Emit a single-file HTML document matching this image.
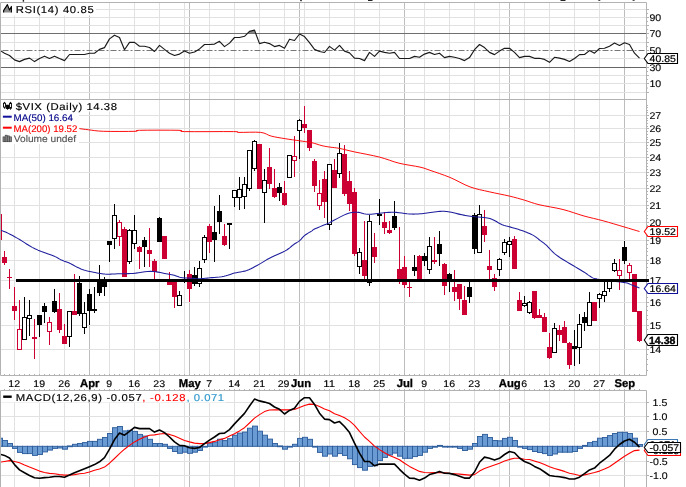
<!DOCTYPE html><html><head><meta charset="utf-8"><style>html,body{margin:0;padding:0;background:#fff;overflow:hidden}svg{display:block;will-change:transform}</style></head><body><svg width="686" height="487" viewBox="0 0 686 487" font-family="Liberation Sans, sans-serif" text-rendering="geometricPrecision">
<rect x="0" y="0" width="686" height="487" fill="#fff"/>
<rect x="22.7" y="0" width="1.4000000000000021" height="1.7" fill="#222"/>
<rect x="300.2" y="0" width="1.6000000000000227" height="1.2" fill="#222"/>
<rect x="368" y="0" width="4.5" height="1.0" fill="#222"/>
<rect x="560.5" y="0" width="5.0" height="1.0" fill="#222"/>
<rect x="598.3" y="0" width="2.0" height="0.8" fill="#222"/>
<rect x="632.6" y="0" width="2.0" height="0.8" fill="#222"/>
<line x1="14.5" y1="2.5" x2="14.5" y2="99.5" stroke="#e1e1e1" stroke-width="1"/>
<line x1="39.5" y1="2.5" x2="39.5" y2="99.5" stroke="#e1e1e1" stroke-width="1"/>
<line x1="64.5" y1="2.5" x2="64.5" y2="99.5" stroke="#e1e1e1" stroke-width="1"/>
<line x1="109.5" y1="2.5" x2="109.5" y2="99.5" stroke="#e1e1e1" stroke-width="1"/>
<line x1="134.5" y1="2.5" x2="134.5" y2="99.5" stroke="#e1e1e1" stroke-width="1"/>
<line x1="159.5" y1="2.5" x2="159.5" y2="99.5" stroke="#e1e1e1" stroke-width="1"/>
<line x1="184.5" y1="2.5" x2="184.5" y2="99.5" stroke="#e1e1e1" stroke-width="1"/>
<line x1="209.5" y1="2.5" x2="209.5" y2="99.5" stroke="#e1e1e1" stroke-width="1"/>
<line x1="234.5" y1="2.5" x2="234.5" y2="99.5" stroke="#e1e1e1" stroke-width="1"/>
<line x1="259.5" y1="2.5" x2="259.5" y2="99.5" stroke="#e1e1e1" stroke-width="1"/>
<line x1="284.5" y1="2.5" x2="284.5" y2="99.5" stroke="#e1e1e1" stroke-width="1"/>
<line x1="304.5" y1="2.5" x2="304.5" y2="99.5" stroke="#e1e1e1" stroke-width="1"/>
<line x1="329.5" y1="2.5" x2="329.5" y2="99.5" stroke="#e1e1e1" stroke-width="1"/>
<line x1="354.5" y1="2.5" x2="354.5" y2="99.5" stroke="#e1e1e1" stroke-width="1"/>
<line x1="379.5" y1="2.5" x2="379.5" y2="99.5" stroke="#e1e1e1" stroke-width="1"/>
<line x1="424.5" y1="2.5" x2="424.5" y2="99.5" stroke="#e1e1e1" stroke-width="1"/>
<line x1="449.5" y1="2.5" x2="449.5" y2="99.5" stroke="#e1e1e1" stroke-width="1"/>
<line x1="474.5" y1="2.5" x2="474.5" y2="99.5" stroke="#e1e1e1" stroke-width="1"/>
<line x1="499.5" y1="2.5" x2="499.5" y2="99.5" stroke="#e1e1e1" stroke-width="1"/>
<line x1="524.5" y1="2.5" x2="524.5" y2="99.5" stroke="#e1e1e1" stroke-width="1"/>
<line x1="549.5" y1="2.5" x2="549.5" y2="99.5" stroke="#e1e1e1" stroke-width="1"/>
<line x1="574.5" y1="2.5" x2="574.5" y2="99.5" stroke="#e1e1e1" stroke-width="1"/>
<line x1="599.5" y1="2.5" x2="599.5" y2="99.5" stroke="#e1e1e1" stroke-width="1"/>
<line x1="89.5" y1="2.5" x2="89.5" y2="99.5" stroke="#bdbdbd" stroke-width="1"/>
<line x1="189.5" y1="2.5" x2="189.5" y2="99.5" stroke="#bdbdbd" stroke-width="1"/>
<line x1="299.5" y1="2.5" x2="299.5" y2="99.5" stroke="#bdbdbd" stroke-width="1"/>
<line x1="404.5" y1="2.5" x2="404.5" y2="99.5" stroke="#bdbdbd" stroke-width="1"/>
<line x1="509.5" y1="2.5" x2="509.5" y2="99.5" stroke="#bdbdbd" stroke-width="1"/>
<line x1="624.5" y1="2.5" x2="624.5" y2="99.5" stroke="#bdbdbd" stroke-width="1"/>
<line x1="0.5" y1="9.5" x2="646.5" y2="9.5" stroke="#e1e1e1" stroke-width="1" />
<line x1="0.5" y1="17.5" x2="646.5" y2="17.5" stroke="#e1e1e1" stroke-width="1" />
<line x1="0.5" y1="25.5" x2="646.5" y2="25.5" stroke="#e1e1e1" stroke-width="1" />
<line x1="0.5" y1="42.5" x2="646.5" y2="42.5" stroke="#e1e1e1" stroke-width="1" />
<line x1="0.5" y1="58.5" x2="646.5" y2="58.5" stroke="#e1e1e1" stroke-width="1" />
<line x1="0.5" y1="75.5" x2="646.5" y2="75.5" stroke="#e1e1e1" stroke-width="1" />
<line x1="0.5" y1="83.5" x2="646.5" y2="83.5" stroke="#e1e1e1" stroke-width="1" />
<line x1="0.5" y1="92.5" x2="646.5" y2="92.5" stroke="#e1e1e1" stroke-width="1" />
<rect x="1" y="3" width="95" height="12.5" fill="#fff"/>
<line x1="0.5" y1="33.5" x2="646.5" y2="33.5" stroke="#666666" stroke-width="1" />
<line x1="0.5" y1="67.5" x2="646.5" y2="67.5" stroke="#666666" stroke-width="1" />
<line x1="0.5" y1="50.5" x2="646.5" y2="50.5" stroke="#777777" stroke-width="1" stroke-dasharray="6,2,2,2" stroke-dashoffset="10"/>
<clipPath id="ob"><rect x="0" y="0" width="686" height="33.5"/></clipPath>
<polygon points="-0.5,33.5 -0.5,50.1 4.5,53.2 9.5,55.5 14.5,59.9 19.5,61.6 24.5,59.4 29.5,58.1 34.5,61.6 39.5,58.5 44.5,56.2 49.5,58.5 54.5,56.2 59.5,58.5 64.5,60.6 69.5,54.5 74.5,54.5 79.5,54.5 84.5,54.5 89.5,53.2 94.5,53.2 99.5,49.4 104.5,47.6 109.5,38.9 114.5,35.2 119.5,37.5 124.5,49.7 129.5,42.4 134.5,42.4 139.5,46.2 144.5,46.2 149.5,47.5 154.5,51.5 159.5,45.4 164.5,49.4 169.5,53.2 174.5,55.5 179.5,54.1 184.5,51 189.5,53.2 194.5,52 199.5,48.9 204.5,44.5 209.5,44.5 214.5,44.1 219.5,41.3 224.5,46.6 229.5,43.1 234.5,37.5 239.5,37.5 244.5,36.3 249.5,31.4 254.5,30.1 259.5,43.6 264.5,42.2 269.5,43.6 274.5,46.6 279.5,45.4 284.5,48.3 289.5,39.2 294.5,40.5 299.5,34 304.5,36.6 309.5,42.7 314.5,49.4 319.5,51.5 324.5,52.5 329.5,46.4 334.5,50.1 339.5,45.4 344.5,51.1 349.5,52.9 354.5,58.1 359.5,58.5 364.5,60.6 369.5,52.4 374.5,56.4 379.5,51.1 384.5,52.4 389.5,53.2 394.5,52.4 399.5,58.5 404.5,58.5 409.5,58.5 414.5,56.4 419.5,57.3 424.5,54.1 429.5,52.4 434.5,54.5 439.5,53.2 444.5,57.6 449.5,56.4 454.5,57.3 459.5,58.5 464.5,60.6 469.5,57.6 474.5,49.7 479.5,44.5 484.5,47.6 489.5,52.4 494.5,54.6 499.5,51.1 504.5,48.3 509.5,48.3 514.5,52.4 519.5,57.6 524.5,56.4 529.5,56.4 534.5,58.3 539.5,58.3 544.5,59.4 549.5,62.3 554.5,57.3 559.5,58.1 564.5,59.4 569.5,61.5 574.5,58.5 579.5,54.6 584.5,54.5 589.5,50.6 594.5,53.2 599.5,48.5 604.5,48.3 609.5,46.2 614.5,43.1 619.5,45.4 624.5,42.7 629.5,44.5 634.5,53.2 639.5,58.1 639.5,33.5" fill="#8a8a8a" clip-path="url(#ob)"/>
<polyline points="-0.5,50.1 4.5,53.2 9.5,55.5 14.5,59.9 19.5,61.6 24.5,59.4 29.5,58.1 34.5,61.6 39.5,58.5 44.5,56.2 49.5,58.5 54.5,56.2 59.5,58.5 64.5,60.6 69.5,54.5 74.5,54.5 79.5,54.5 84.5,54.5 89.5,53.2 94.5,53.2 99.5,49.4 104.5,47.6 109.5,38.9 114.5,35.2 119.5,37.5 124.5,49.7 129.5,42.4 134.5,42.4 139.5,46.2 144.5,46.2 149.5,47.5 154.5,51.5 159.5,45.4 164.5,49.4 169.5,53.2 174.5,55.5 179.5,54.1 184.5,51 189.5,53.2 194.5,52 199.5,48.9 204.5,44.5 209.5,44.5 214.5,44.1 219.5,41.3 224.5,46.6 229.5,43.1 234.5,37.5 239.5,37.5 244.5,36.3 249.5,31.4 254.5,30.1 259.5,43.6 264.5,42.2 269.5,43.6 274.5,46.6 279.5,45.4 284.5,48.3 289.5,39.2 294.5,40.5 299.5,34 304.5,36.6 309.5,42.7 314.5,49.4 319.5,51.5 324.5,52.5 329.5,46.4 334.5,50.1 339.5,45.4 344.5,51.1 349.5,52.9 354.5,58.1 359.5,58.5 364.5,60.6 369.5,52.4 374.5,56.4 379.5,51.1 384.5,52.4 389.5,53.2 394.5,52.4 399.5,58.5 404.5,58.5 409.5,58.5 414.5,56.4 419.5,57.3 424.5,54.1 429.5,52.4 434.5,54.5 439.5,53.2 444.5,57.6 449.5,56.4 454.5,57.3 459.5,58.5 464.5,60.6 469.5,57.6 474.5,49.7 479.5,44.5 484.5,47.6 489.5,52.4 494.5,54.6 499.5,51.1 504.5,48.3 509.5,48.3 514.5,52.4 519.5,57.6 524.5,56.4 529.5,56.4 534.5,58.3 539.5,58.3 544.5,59.4 549.5,62.3 554.5,57.3 559.5,58.1 564.5,59.4 569.5,61.5 574.5,58.5 579.5,54.6 584.5,54.5 589.5,50.6 594.5,53.2 599.5,48.5 604.5,48.3 609.5,46.2 614.5,43.1 619.5,45.4 624.5,42.7 629.5,44.5 634.5,53.2 639.5,58.1" fill="none" stroke="#1a1a1a" stroke-width="1.15" stroke-linejoin="round"/>
<line x1="14.5" y1="99.5" x2="14.5" y2="375.5" stroke="#e1e1e1" stroke-width="1"/>
<line x1="39.5" y1="99.5" x2="39.5" y2="375.5" stroke="#e1e1e1" stroke-width="1"/>
<line x1="64.5" y1="99.5" x2="64.5" y2="375.5" stroke="#e1e1e1" stroke-width="1"/>
<line x1="109.5" y1="99.5" x2="109.5" y2="375.5" stroke="#e1e1e1" stroke-width="1"/>
<line x1="134.5" y1="99.5" x2="134.5" y2="375.5" stroke="#e1e1e1" stroke-width="1"/>
<line x1="159.5" y1="99.5" x2="159.5" y2="375.5" stroke="#e1e1e1" stroke-width="1"/>
<line x1="184.5" y1="99.5" x2="184.5" y2="375.5" stroke="#e1e1e1" stroke-width="1"/>
<line x1="209.5" y1="99.5" x2="209.5" y2="375.5" stroke="#e1e1e1" stroke-width="1"/>
<line x1="234.5" y1="99.5" x2="234.5" y2="375.5" stroke="#e1e1e1" stroke-width="1"/>
<line x1="259.5" y1="99.5" x2="259.5" y2="375.5" stroke="#e1e1e1" stroke-width="1"/>
<line x1="284.5" y1="99.5" x2="284.5" y2="375.5" stroke="#e1e1e1" stroke-width="1"/>
<line x1="304.5" y1="99.5" x2="304.5" y2="375.5" stroke="#e1e1e1" stroke-width="1"/>
<line x1="329.5" y1="99.5" x2="329.5" y2="375.5" stroke="#e1e1e1" stroke-width="1"/>
<line x1="354.5" y1="99.5" x2="354.5" y2="375.5" stroke="#e1e1e1" stroke-width="1"/>
<line x1="379.5" y1="99.5" x2="379.5" y2="375.5" stroke="#e1e1e1" stroke-width="1"/>
<line x1="424.5" y1="99.5" x2="424.5" y2="375.5" stroke="#e1e1e1" stroke-width="1"/>
<line x1="449.5" y1="99.5" x2="449.5" y2="375.5" stroke="#e1e1e1" stroke-width="1"/>
<line x1="474.5" y1="99.5" x2="474.5" y2="375.5" stroke="#e1e1e1" stroke-width="1"/>
<line x1="499.5" y1="99.5" x2="499.5" y2="375.5" stroke="#e1e1e1" stroke-width="1"/>
<line x1="524.5" y1="99.5" x2="524.5" y2="375.5" stroke="#e1e1e1" stroke-width="1"/>
<line x1="549.5" y1="99.5" x2="549.5" y2="375.5" stroke="#e1e1e1" stroke-width="1"/>
<line x1="574.5" y1="99.5" x2="574.5" y2="375.5" stroke="#e1e1e1" stroke-width="1"/>
<line x1="599.5" y1="99.5" x2="599.5" y2="375.5" stroke="#e1e1e1" stroke-width="1"/>
<line x1="89.5" y1="99.5" x2="89.5" y2="375.5" stroke="#bdbdbd" stroke-width="1"/>
<line x1="189.5" y1="99.5" x2="189.5" y2="375.5" stroke="#bdbdbd" stroke-width="1"/>
<line x1="299.5" y1="99.5" x2="299.5" y2="375.5" stroke="#bdbdbd" stroke-width="1"/>
<line x1="404.5" y1="99.5" x2="404.5" y2="375.5" stroke="#bdbdbd" stroke-width="1"/>
<line x1="509.5" y1="99.5" x2="509.5" y2="375.5" stroke="#bdbdbd" stroke-width="1"/>
<line x1="624.5" y1="99.5" x2="624.5" y2="375.5" stroke="#bdbdbd" stroke-width="1"/>
<line x1="0.5" y1="115.5" x2="646.5" y2="115.5" stroke="#e1e1e1" stroke-width="1" />
<line x1="0.5" y1="128.5" x2="646.5" y2="128.5" stroke="#e1e1e1" stroke-width="1" />
<line x1="0.5" y1="142.5" x2="646.5" y2="142.5" stroke="#e1e1e1" stroke-width="1" />
<line x1="0.5" y1="157.5" x2="646.5" y2="157.5" stroke="#e1e1e1" stroke-width="1" />
<line x1="0.5" y1="172.5" x2="646.5" y2="172.5" stroke="#e1e1e1" stroke-width="1" />
<line x1="0.5" y1="188.5" x2="646.5" y2="188.5" stroke="#e1e1e1" stroke-width="1" />
<line x1="0.5" y1="205.5" x2="646.5" y2="205.5" stroke="#e1e1e1" stroke-width="1" />
<line x1="0.5" y1="222.5" x2="646.5" y2="222.5" stroke="#e1e1e1" stroke-width="1" />
<line x1="0.5" y1="240.5" x2="646.5" y2="240.5" stroke="#e1e1e1" stroke-width="1" />
<line x1="0.5" y1="260.5" x2="646.5" y2="260.5" stroke="#e1e1e1" stroke-width="1" />
<line x1="0.5" y1="280.5" x2="646.5" y2="280.5" stroke="#e1e1e1" stroke-width="1" />
<line x1="0.5" y1="302.5" x2="646.5" y2="302.5" stroke="#e1e1e1" stroke-width="1" />
<line x1="0.5" y1="325.5" x2="646.5" y2="325.5" stroke="#e1e1e1" stroke-width="1" />
<line x1="0.5" y1="349.5" x2="646.5" y2="349.5" stroke="#e1e1e1" stroke-width="1" />
<rect x="1" y="100" width="118" height="11.5" fill="#fff"/>
<rect x="1" y="111" width="78" height="33" fill="#fff"/>
<clipPath id="mc"><rect x="1" y="99" width="646" height="277"/></clipPath>
<g clip-path="url(#mc)" shape-rendering="auto">
<line x1="-0.5" y1="214" x2="-0.5" y2="240" stroke="#cc0033" stroke-width="1"/>
<rect x="-3.0" y="214" width="5" height="26" fill="#cc0033"/>
<line x1="4.5" y1="251" x2="4.5" y2="265" stroke="#cc0033" stroke-width="1"/>
<rect x="2.0" y="257" width="5" height="6" fill="#cc0033"/>
<line x1="9.5" y1="269" x2="9.5" y2="289" stroke="#cc0033" stroke-width="1"/>
<rect x="7.0" y="277" width="5" height="1" fill="#cc0033"/>
<line x1="14.5" y1="287" x2="14.5" y2="320" stroke="#cc0033" stroke-width="1"/>
<rect x="12.0" y="306" width="5" height="5" fill="#cc0033"/>
<line x1="19.5" y1="300" x2="19.5" y2="350" stroke="#cc0033" stroke-width="1"/>
<rect x="17.5" y="329.5" width="4" height="20" fill="#fff" stroke="#cc0033" stroke-width="1"/>
<line x1="24.5" y1="297" x2="24.5" y2="340" stroke="#000" stroke-width="1"/>
<rect x="22.5" y="317.5" width="4" height="22" fill="#fff" stroke="#000" stroke-width="1"/>
<line x1="29.5" y1="300" x2="29.5" y2="336" stroke="#000" stroke-width="1"/>
<rect x="27.5" y="315.5" width="4" height="3" fill="#fff" stroke="#000" stroke-width="1"/>
<line x1="34.5" y1="319" x2="34.5" y2="359" stroke="#cc0033" stroke-width="1"/>
<rect x="32.0" y="337" width="5" height="2" fill="#cc0033"/>
<line x1="39.5" y1="315" x2="39.5" y2="337" stroke="#000" stroke-width="1"/>
<rect x="37.0" y="315" width="5" height="10" fill="#000"/>
<line x1="44.5" y1="303" x2="44.5" y2="323" stroke="#000" stroke-width="1"/>
<rect x="42.0" y="306" width="5" height="6" fill="#000"/>
<line x1="49.5" y1="317" x2="49.5" y2="345" stroke="#cc0033" stroke-width="1"/>
<rect x="47.5" y="322.5" width="4" height="9" fill="#fff" stroke="#cc0033" stroke-width="1"/>
<line x1="54.5" y1="289" x2="54.5" y2="313" stroke="#000" stroke-width="1"/>
<rect x="52.0" y="301" width="5" height="11" fill="#000"/>
<line x1="59.5" y1="293" x2="59.5" y2="333" stroke="#cc0033" stroke-width="1"/>
<rect x="57.0" y="309" width="5" height="21" fill="#cc0033"/>
<line x1="64.5" y1="324" x2="64.5" y2="344" stroke="#cc0033" stroke-width="1"/>
<rect x="62.0" y="336" width="5" height="8" fill="#cc0033"/>
<line x1="69.5" y1="311" x2="69.5" y2="347" stroke="#000" stroke-width="1"/>
<rect x="67.5" y="311.5" width="4" height="25" fill="#fff" stroke="#000" stroke-width="1"/>
<line x1="74.5" y1="274" x2="74.5" y2="315" stroke="#cc0033" stroke-width="1"/>
<rect x="72.0" y="311" width="5" height="4" fill="#cc0033"/>
<line x1="79.5" y1="276" x2="79.5" y2="316" stroke="#000" stroke-width="1"/>
<rect x="77.0" y="283" width="5" height="31" fill="#000"/>
<line x1="84.5" y1="302" x2="84.5" y2="334" stroke="#000" stroke-width="1"/>
<rect x="82.5" y="313.5" width="4" height="14" fill="#fff" stroke="#000" stroke-width="1"/>
<line x1="89.5" y1="289" x2="89.5" y2="325" stroke="#000" stroke-width="1"/>
<rect x="87.0" y="294" width="5" height="17" fill="#000"/>
<line x1="94.5" y1="287" x2="94.5" y2="313" stroke="#000" stroke-width="1"/>
<rect x="92.0" y="309" width="5" height="2" fill="#000"/>
<line x1="99.5" y1="265" x2="99.5" y2="296" stroke="#000" stroke-width="1"/>
<rect x="97.0" y="279" width="5" height="14" fill="#000"/>
<line x1="104.5" y1="277" x2="104.5" y2="296" stroke="#000" stroke-width="1"/>
<rect x="102.0" y="280" width="5" height="7" fill="#000"/>
<line x1="109.5" y1="241" x2="109.5" y2="262" stroke="#000" stroke-width="1"/>
<rect x="107.0" y="241" width="5" height="4" fill="#000"/>
<line x1="114.5" y1="204" x2="114.5" y2="249" stroke="#000" stroke-width="1"/>
<rect x="112.5" y="215.5" width="4" height="23" fill="#fff" stroke="#000" stroke-width="1"/>
<line x1="119.5" y1="220" x2="119.5" y2="246" stroke="#cc0033" stroke-width="1"/>
<rect x="117.5" y="222.5" width="4" height="14" fill="#fff" stroke="#cc0033" stroke-width="1"/>
<line x1="124.5" y1="227" x2="124.5" y2="277" stroke="#cc0033" stroke-width="1"/>
<rect x="122.0" y="229" width="5" height="48" fill="#cc0033"/>
<line x1="129.5" y1="229" x2="129.5" y2="264" stroke="#000" stroke-width="1"/>
<rect x="127.5" y="230.5" width="4" height="31" fill="#fff" stroke="#000" stroke-width="1"/>
<line x1="134.5" y1="215" x2="134.5" y2="249" stroke="#000" stroke-width="1"/>
<rect x="132.5" y="230.5" width="4" height="13" fill="#fff" stroke="#000" stroke-width="1"/>
<line x1="139.5" y1="246" x2="139.5" y2="269" stroke="#cc0033" stroke-width="1"/>
<rect x="137.0" y="247" width="5" height="5" fill="#cc0033"/>
<line x1="144.5" y1="237" x2="144.5" y2="267" stroke="#000" stroke-width="1"/>
<rect x="142.0" y="240" width="5" height="7" fill="#000"/>
<line x1="149.5" y1="228" x2="149.5" y2="267" stroke="#cc0033" stroke-width="1"/>
<rect x="147.0" y="250" width="5" height="4" fill="#cc0033"/>
<line x1="154.5" y1="259" x2="154.5" y2="279" stroke="#cc0033" stroke-width="1"/>
<rect x="152.0" y="261" width="5" height="11" fill="#cc0033"/>
<line x1="159.5" y1="217" x2="159.5" y2="242" stroke="#000" stroke-width="1"/>
<rect x="157.0" y="218" width="5" height="24" fill="#000"/>
<line x1="164.5" y1="236" x2="164.5" y2="259" stroke="#cc0033" stroke-width="1"/>
<rect x="162.0" y="236" width="5" height="23" fill="#cc0033"/>
<line x1="169.5" y1="272" x2="169.5" y2="285" stroke="#cc0033" stroke-width="1"/>
<rect x="167.0" y="280" width="5" height="5" fill="#cc0033"/>
<line x1="174.5" y1="280" x2="174.5" y2="308" stroke="#cc0033" stroke-width="1"/>
<rect x="172.0" y="280" width="5" height="17" fill="#cc0033"/>
<line x1="179.5" y1="291" x2="179.5" y2="306" stroke="#000" stroke-width="1"/>
<rect x="177.5" y="295.5" width="4" height="10" fill="#fff" stroke="#000" stroke-width="1"/>
<line x1="184.5" y1="271" x2="184.5" y2="283" stroke="#000" stroke-width="1"/>
<rect x="182.0" y="280" width="5" height="1" fill="#000"/>
<line x1="189.5" y1="270" x2="189.5" y2="302" stroke="#cc0033" stroke-width="1"/>
<rect x="187.0" y="274" width="5" height="15" fill="#cc0033"/>
<line x1="194.5" y1="267" x2="194.5" y2="286" stroke="#000" stroke-width="1"/>
<rect x="192.0" y="275" width="5" height="9" fill="#000"/>
<line x1="199.5" y1="261" x2="199.5" y2="287" stroke="#000" stroke-width="1"/>
<rect x="197.5" y="268.5" width="4" height="15" fill="#fff" stroke="#000" stroke-width="1"/>
<line x1="204.5" y1="235" x2="204.5" y2="263" stroke="#000" stroke-width="1"/>
<rect x="202.5" y="237.5" width="4" height="22" fill="#fff" stroke="#000" stroke-width="1"/>
<line x1="209.5" y1="224" x2="209.5" y2="253" stroke="#cc0033" stroke-width="1"/>
<rect x="207.0" y="226" width="5" height="16" fill="#cc0033"/>
<line x1="214.5" y1="206" x2="214.5" y2="262" stroke="#000" stroke-width="1"/>
<rect x="212.0" y="232" width="5" height="8" fill="#000"/>
<line x1="219.5" y1="195" x2="219.5" y2="234" stroke="#000" stroke-width="1"/>
<rect x="217.0" y="211" width="5" height="11" fill="#000"/>
<line x1="224.5" y1="224" x2="224.5" y2="246" stroke="#cc0033" stroke-width="1"/>
<rect x="222.0" y="236" width="5" height="9" fill="#cc0033"/>
<line x1="229.5" y1="223" x2="229.5" y2="249" stroke="#000" stroke-width="1"/>
<rect x="227.0" y="223" width="5" height="2" fill="#000"/>
<line x1="234.5" y1="190" x2="234.5" y2="207" stroke="#000" stroke-width="1"/>
<rect x="232.5" y="190.5" width="4" height="7" fill="#fff" stroke="#000" stroke-width="1"/>
<line x1="239.5" y1="177" x2="239.5" y2="210" stroke="#000" stroke-width="1"/>
<rect x="237.5" y="189.5" width="4" height="8" fill="#fff" stroke="#000" stroke-width="1"/>
<line x1="244.5" y1="177" x2="244.5" y2="209" stroke="#000" stroke-width="1"/>
<rect x="242.5" y="184.5" width="4" height="12" fill="#fff" stroke="#000" stroke-width="1"/>
<line x1="249.5" y1="150" x2="249.5" y2="191" stroke="#000" stroke-width="1"/>
<rect x="247.5" y="150.5" width="4" height="38" fill="#fff" stroke="#000" stroke-width="1"/>
<line x1="254.5" y1="140" x2="254.5" y2="171" stroke="#000" stroke-width="1"/>
<rect x="252.5" y="141.5" width="4" height="27" fill="#fff" stroke="#000" stroke-width="1"/>
<line x1="259.5" y1="144" x2="259.5" y2="189" stroke="#cc0033" stroke-width="1"/>
<rect x="257.0" y="144" width="5" height="45" fill="#cc0033"/>
<line x1="264.5" y1="169" x2="264.5" y2="223" stroke="#000" stroke-width="1"/>
<rect x="262.5" y="180.5" width="4" height="12" fill="#fff" stroke="#000" stroke-width="1"/>
<line x1="269.5" y1="148" x2="269.5" y2="189" stroke="#cc0033" stroke-width="1"/>
<rect x="267.0" y="167" width="5" height="17" fill="#cc0033"/>
<line x1="274.5" y1="169" x2="274.5" y2="198" stroke="#cc0033" stroke-width="1"/>
<rect x="272.0" y="188" width="5" height="9" fill="#cc0033"/>
<line x1="279.5" y1="183" x2="279.5" y2="201" stroke="#000" stroke-width="1"/>
<rect x="277.0" y="187" width="5" height="6" fill="#000"/>
<line x1="284.5" y1="181" x2="284.5" y2="206" stroke="#cc0033" stroke-width="1"/>
<rect x="282.0" y="193" width="5" height="12" fill="#cc0033"/>
<line x1="289.5" y1="155" x2="289.5" y2="178" stroke="#000" stroke-width="1"/>
<rect x="287.5" y="155.5" width="4" height="22" fill="#fff" stroke="#000" stroke-width="1"/>
<line x1="294.5" y1="136" x2="294.5" y2="177" stroke="#cc0033" stroke-width="1"/>
<rect x="292.5" y="156.5" width="4" height="4" fill="#fff" stroke="#cc0033" stroke-width="1"/>
<line x1="299.5" y1="119" x2="299.5" y2="159" stroke="#000" stroke-width="1"/>
<rect x="297.5" y="120.5" width="4" height="10" fill="#fff" stroke="#000" stroke-width="1"/>
<line x1="304.5" y1="106" x2="304.5" y2="133" stroke="#cc0033" stroke-width="1"/>
<rect x="302.0" y="124" width="5" height="4" fill="#cc0033"/>
<line x1="309.5" y1="130" x2="309.5" y2="151" stroke="#cc0033" stroke-width="1"/>
<rect x="307.0" y="130" width="5" height="18" fill="#cc0033"/>
<line x1="314.5" y1="159" x2="314.5" y2="192" stroke="#cc0033" stroke-width="1"/>
<rect x="312.0" y="161" width="5" height="25" fill="#cc0033"/>
<line x1="319.5" y1="180" x2="319.5" y2="210" stroke="#cc0033" stroke-width="1"/>
<rect x="317.5" y="193.5" width="4" height="12" fill="#fff" stroke="#cc0033" stroke-width="1"/>
<line x1="324.5" y1="171" x2="324.5" y2="218" stroke="#cc0033" stroke-width="1"/>
<rect x="322.0" y="179" width="5" height="23" fill="#cc0033"/>
<line x1="329.5" y1="164" x2="329.5" y2="230" stroke="#000" stroke-width="1"/>
<rect x="327.5" y="164.5" width="4" height="60" fill="#fff" stroke="#000" stroke-width="1"/>
<line x1="334.5" y1="159" x2="334.5" y2="188" stroke="#cc0033" stroke-width="1"/>
<rect x="332.0" y="170" width="5" height="18" fill="#cc0033"/>
<line x1="339.5" y1="143" x2="339.5" y2="178" stroke="#000" stroke-width="1"/>
<rect x="337.5" y="153.5" width="4" height="20" fill="#fff" stroke="#000" stroke-width="1"/>
<line x1="344.5" y1="145" x2="344.5" y2="196" stroke="#cc0033" stroke-width="1"/>
<rect x="342.0" y="154" width="5" height="40" fill="#cc0033"/>
<line x1="349.5" y1="171" x2="349.5" y2="211" stroke="#cc0033" stroke-width="1"/>
<rect x="347.0" y="181" width="5" height="23" fill="#cc0033"/>
<line x1="354.5" y1="188" x2="354.5" y2="256" stroke="#cc0033" stroke-width="1"/>
<rect x="352.0" y="192" width="5" height="62" fill="#cc0033"/>
<line x1="359.5" y1="248" x2="359.5" y2="274" stroke="#000" stroke-width="1"/>
<rect x="357.5" y="252.5" width="4" height="14" fill="#fff" stroke="#000" stroke-width="1"/>
<line x1="364.5" y1="221" x2="364.5" y2="279" stroke="#cc0033" stroke-width="1"/>
<rect x="362.0" y="260" width="5" height="16" fill="#cc0033"/>
<line x1="369.5" y1="215" x2="369.5" y2="286" stroke="#000" stroke-width="1"/>
<rect x="367.5" y="221.5" width="4" height="61" fill="#fff" stroke="#000" stroke-width="1"/>
<line x1="374.5" y1="233" x2="374.5" y2="263" stroke="#cc0033" stroke-width="1"/>
<rect x="372.0" y="247" width="5" height="10" fill="#cc0033"/>
<line x1="379.5" y1="199" x2="379.5" y2="225" stroke="#000" stroke-width="1"/>
<rect x="377.0" y="214" width="5" height="2" fill="#000"/>
<line x1="384.5" y1="212" x2="384.5" y2="234" stroke="#cc0033" stroke-width="1"/>
<rect x="382.0" y="222" width="5" height="6" fill="#cc0033"/>
<line x1="389.5" y1="221" x2="389.5" y2="234" stroke="#cc0033" stroke-width="1"/>
<rect x="387.0" y="230" width="5" height="3" fill="#cc0033"/>
<line x1="394.5" y1="201" x2="394.5" y2="230" stroke="#000" stroke-width="1"/>
<rect x="392.0" y="216" width="5" height="12" fill="#000"/>
<line x1="399.5" y1="227" x2="399.5" y2="284" stroke="#cc0033" stroke-width="1"/>
<rect x="397.0" y="269" width="5" height="12" fill="#cc0033"/>
<line x1="404.5" y1="256" x2="404.5" y2="288" stroke="#cc0033" stroke-width="1"/>
<rect x="402.0" y="267" width="5" height="18" fill="#cc0033"/>
<line x1="409.5" y1="280" x2="409.5" y2="297" stroke="#cc0033" stroke-width="1"/>
<rect x="407.0" y="287" width="5" height="1" fill="#cc0033"/>
<line x1="414.5" y1="255" x2="414.5" y2="276" stroke="#000" stroke-width="1"/>
<rect x="412.0" y="267" width="5" height="4" fill="#000"/>
<line x1="419.5" y1="255" x2="419.5" y2="281" stroke="#cc0033" stroke-width="1"/>
<rect x="417.0" y="256" width="5" height="25" fill="#cc0033"/>
<line x1="424.5" y1="253" x2="424.5" y2="266" stroke="#000" stroke-width="1"/>
<rect x="422.0" y="256" width="5" height="5" fill="#000"/>
<line x1="429.5" y1="237" x2="429.5" y2="274" stroke="#000" stroke-width="1"/>
<rect x="427.5" y="246.5" width="4" height="23" fill="#fff" stroke="#000" stroke-width="1"/>
<line x1="434.5" y1="237" x2="434.5" y2="264" stroke="#cc0033" stroke-width="1"/>
<rect x="432.0" y="260" width="5" height="2" fill="#cc0033"/>
<line x1="439.5" y1="231" x2="439.5" y2="266" stroke="#000" stroke-width="1"/>
<rect x="437.0" y="244" width="5" height="10" fill="#000"/>
<line x1="444.5" y1="263" x2="444.5" y2="295" stroke="#cc0033" stroke-width="1"/>
<rect x="442.0" y="264" width="5" height="22" fill="#cc0033"/>
<line x1="449.5" y1="273" x2="449.5" y2="292" stroke="#000" stroke-width="1"/>
<rect x="447.0" y="274" width="5" height="7" fill="#000"/>
<line x1="454.5" y1="270" x2="454.5" y2="301" stroke="#cc0033" stroke-width="1"/>
<rect x="452.0" y="287" width="5" height="5" fill="#cc0033"/>
<line x1="459.5" y1="284" x2="459.5" y2="310" stroke="#cc0033" stroke-width="1"/>
<rect x="457.0" y="284" width="5" height="15" fill="#cc0033"/>
<line x1="464.5" y1="286" x2="464.5" y2="315" stroke="#cc0033" stroke-width="1"/>
<rect x="462.0" y="300" width="5" height="15" fill="#cc0033"/>
<line x1="469.5" y1="280" x2="469.5" y2="303" stroke="#000" stroke-width="1"/>
<rect x="467.0" y="287" width="5" height="10" fill="#000"/>
<line x1="474.5" y1="213" x2="474.5" y2="254" stroke="#000" stroke-width="1"/>
<rect x="472.0" y="215" width="5" height="34" fill="#000"/>
<line x1="479.5" y1="205" x2="479.5" y2="253" stroke="#000" stroke-width="1"/>
<rect x="477.5" y="214.5" width="4" height="38" fill="#fff" stroke="#000" stroke-width="1"/>
<line x1="484.5" y1="210" x2="484.5" y2="242" stroke="#cc0033" stroke-width="1"/>
<rect x="482.0" y="226" width="5" height="9" fill="#cc0033"/>
<line x1="489.5" y1="250" x2="489.5" y2="281" stroke="#cc0033" stroke-width="1"/>
<rect x="487.0" y="266" width="5" height="4" fill="#cc0033"/>
<line x1="494.5" y1="274" x2="494.5" y2="291" stroke="#cc0033" stroke-width="1"/>
<rect x="492.0" y="278" width="5" height="9" fill="#cc0033"/>
<line x1="499.5" y1="258" x2="499.5" y2="276" stroke="#000" stroke-width="1"/>
<rect x="497.5" y="259.5" width="4" height="10" fill="#fff" stroke="#000" stroke-width="1"/>
<line x1="504.5" y1="239" x2="504.5" y2="255" stroke="#000" stroke-width="1"/>
<rect x="502.5" y="242.5" width="4" height="10" fill="#fff" stroke="#000" stroke-width="1"/>
<line x1="509.5" y1="237" x2="509.5" y2="257" stroke="#000" stroke-width="1"/>
<rect x="507.5" y="241.5" width="4" height="3" fill="#fff" stroke="#000" stroke-width="1"/>
<line x1="514.5" y1="236" x2="514.5" y2="269" stroke="#cc0033" stroke-width="1"/>
<rect x="512.0" y="239" width="5" height="30" fill="#cc0033"/>
<line x1="519.5" y1="292" x2="519.5" y2="311" stroke="#cc0033" stroke-width="1"/>
<rect x="517.0" y="300" width="5" height="11" fill="#cc0033"/>
<line x1="524.5" y1="296" x2="524.5" y2="307" stroke="#000" stroke-width="1"/>
<rect x="522.5" y="303.5" width="4" height="2" fill="#fff" stroke="#000" stroke-width="1"/>
<line x1="529.5" y1="301" x2="529.5" y2="314" stroke="#000" stroke-width="1"/>
<rect x="527.5" y="302.5" width="4" height="10" fill="#fff" stroke="#000" stroke-width="1"/>
<line x1="534.5" y1="291" x2="534.5" y2="319" stroke="#cc0033" stroke-width="1"/>
<rect x="532.0" y="291" width="5" height="27" fill="#cc0033"/>
<line x1="539.5" y1="309" x2="539.5" y2="318" stroke="#cc0033" stroke-width="1"/>
<rect x="537.0" y="315" width="5" height="3" fill="#cc0033"/>
<line x1="544.5" y1="313" x2="544.5" y2="332" stroke="#cc0033" stroke-width="1"/>
<rect x="542.0" y="317" width="5" height="15" fill="#cc0033"/>
<line x1="549.5" y1="333" x2="549.5" y2="359" stroke="#cc0033" stroke-width="1"/>
<rect x="547.0" y="347" width="5" height="11" fill="#cc0033"/>
<line x1="554.5" y1="323" x2="554.5" y2="353" stroke="#000" stroke-width="1"/>
<rect x="552.5" y="328.5" width="4" height="24" fill="#fff" stroke="#000" stroke-width="1"/>
<line x1="559.5" y1="325" x2="559.5" y2="341" stroke="#cc0033" stroke-width="1"/>
<rect x="557.0" y="330" width="5" height="5" fill="#cc0033"/>
<line x1="564.5" y1="321" x2="564.5" y2="343" stroke="#cc0033" stroke-width="1"/>
<rect x="562.0" y="327" width="5" height="16" fill="#cc0033"/>
<line x1="569.5" y1="342" x2="569.5" y2="369" stroke="#cc0033" stroke-width="1"/>
<rect x="567.0" y="343" width="5" height="22" fill="#cc0033"/>
<line x1="574.5" y1="330" x2="574.5" y2="366" stroke="#000" stroke-width="1"/>
<rect x="572.0" y="346" width="5" height="3" fill="#000"/>
<line x1="579.5" y1="314" x2="579.5" y2="364" stroke="#000" stroke-width="1"/>
<rect x="577.5" y="324.5" width="4" height="23" fill="#fff" stroke="#000" stroke-width="1"/>
<line x1="584.5" y1="312" x2="584.5" y2="331" stroke="#000" stroke-width="1"/>
<rect x="582.0" y="317" width="5" height="6" fill="#000"/>
<line x1="589.5" y1="292" x2="589.5" y2="326" stroke="#000" stroke-width="1"/>
<rect x="587.5" y="302.5" width="4" height="23" fill="#fff" stroke="#000" stroke-width="1"/>
<line x1="594.5" y1="302" x2="594.5" y2="321" stroke="#cc0033" stroke-width="1"/>
<rect x="592.0" y="302" width="5" height="19" fill="#cc0033"/>
<line x1="599.5" y1="293" x2="599.5" y2="308" stroke="#000" stroke-width="1"/>
<rect x="597.5" y="294.5" width="4" height="4" fill="#fff" stroke="#000" stroke-width="1"/>
<line x1="604.5" y1="280" x2="604.5" y2="302" stroke="#000" stroke-width="1"/>
<rect x="602.5" y="291.5" width="4" height="4" fill="#fff" stroke="#000" stroke-width="1"/>
<line x1="609.5" y1="280" x2="609.5" y2="292" stroke="#000" stroke-width="1"/>
<rect x="607.5" y="280.5" width="4" height="8" fill="#fff" stroke="#000" stroke-width="1"/>
<line x1="614.5" y1="259" x2="614.5" y2="272" stroke="#000" stroke-width="1"/>
<rect x="612.5" y="263.5" width="4" height="7" fill="#fff" stroke="#000" stroke-width="1"/>
<line x1="619.5" y1="259" x2="619.5" y2="290" stroke="#cc0033" stroke-width="1"/>
<rect x="617.5" y="270.5" width="4" height="5" fill="#fff" stroke="#cc0033" stroke-width="1"/>
<line x1="624.5" y1="241" x2="624.5" y2="264" stroke="#000" stroke-width="1"/>
<rect x="622.0" y="247" width="5" height="14" fill="#000"/>
<line x1="629.5" y1="263" x2="629.5" y2="280" stroke="#cc0033" stroke-width="1"/>
<rect x="627.5" y="265.5" width="4" height="7" fill="#fff" stroke="#cc0033" stroke-width="1"/>
<line x1="634.5" y1="274" x2="634.5" y2="312" stroke="#cc0033" stroke-width="1"/>
<rect x="632.0" y="274" width="5" height="38" fill="#cc0033"/>
<line x1="639.5" y1="311" x2="639.5" y2="342" stroke="#cc0033" stroke-width="1"/>
<rect x="637.0" y="311" width="5" height="30" fill="#cc0033"/>
</g>
<polyline points="79.4,128.6 80.92,128.81 83.07,129.11 85.68,129.45 88.6,129.8 91.54,130.19 94.66,130.62 98.47,131.02 103.5,131.3 110.84,131.43 119.91,131.46 128.64,131.41 135.0,131.3 137.18,131.1 136.69,130.8 136.46,130.5 139.4,130.3 147.62,130.2 159.13,130.16 170.67,130.19 179.0,130.3 181.75,130.56 181.16,130.95 180.86,131.34 184.5,131.6 194.73,131.67 209.06,131.63 223.38,131.57 233.6,131.6 237.64,131.76 238.01,132.0 237.53,132.24 239.0,132.4 243.54,132.37 249.53,132.22 255.68,132.16 260.7,132.4 264.03,133.09 266.43,134.09 268.59,135.17 271.2,136.1 274.44,136.84 277.96,137.5 281.59,138.11 285.2,138.7 288.83,139.27 292.53,139.8 296.17,140.31 299.6,140.8 302.78,141.24 305.79,141.64 308.68,142.07 311.5,142.6 314.28,143.32 316.99,144.17 319.58,145.01 322.0,145.7 324.14,146.17 326.06,146.51 327.95,146.8 330.0,147.1 332.14,147.38 334.31,147.62 336.7,147.92 339.5,148.4 342.63,149.08 346.03,149.91 349.92,150.85 354.5,151.9 360.18,153.06 366.72,154.34 373.4,155.7 379.5,157.1 384.73,158.61 389.5,160.23 394.15,161.81 399.0,163.2 404.4,164.35 410.09,165.33 415.49,166.23 420.0,167.1 423.04,167.86 425.07,168.5 427.06,169.24 430.0,170.3 434.27,171.74 439.32,173.46 444.68,175.36 449.9,177.4 454.93,179.71 459.99,182.29 465.03,184.79 470.0,186.9 474.86,188.46 479.64,189.68 484.43,190.73 489.3,191.8 494.41,192.92 499.66,194.0 504.79,195.05 509.5,196.1 513.65,197.13 517.41,198.14 520.99,199.15 524.6,200.2 528.02,201.29 531.24,202.41 534.74,203.54 539.0,204.7 544.4,205.84 550.59,206.97 556.99,208.17 563.0,209.5 568.5,211.05 573.8,212.75 578.95,214.45 584.0,216.0 588.89,217.29 593.61,218.42 598.33,219.55 603.2,220.8 608.41,222.27 613.83,223.86 619.14,225.45 624.0,226.9 628.61,228.26 633.05,229.58 636.84,230.71 639.5,231.5" fill="none" stroke="#ff0000" stroke-width="0.95" stroke-linejoin="round"/>
<polyline points="1.0,230.2 1.97,230.62 3.3,231.18 4.88,231.85 6.59,232.6 8.34,233.39 10.0,234.2 11.55,235.0 13.07,235.82 14.62,236.69 16.26,237.62 18.03,238.65 20.0,239.8 22.17,241.12 24.49,242.61 26.95,244.2 29.53,245.81 32.22,247.36 35.0,248.8 38.04,250.14 41.4,251.45 44.86,252.71 48.22,253.9 51.27,255.01 53.8,256.0 55.7,256.86 57.12,257.59 58.23,258.24 59.2,258.83 60.2,259.41 61.4,260.0 62.82,260.6 64.32,261.19 65.86,261.75 67.37,262.3 68.8,262.85 70.1,263.4 71.22,263.94 72.2,264.47 73.1,265.0 73.99,265.53 74.93,266.06 76.0,266.6 77.16,267.16 78.36,267.75 79.61,268.34 80.94,268.92 82.36,269.48 83.9,270.0 85.6,270.49 87.47,270.97 89.43,271.42 91.42,271.84 93.36,272.24 95.2,272.6 96.95,272.93 98.68,273.24 100.37,273.51 102.0,273.75 103.55,273.95 105.0,274.1 106.32,274.19 107.5,274.23 108.61,274.22 109.7,274.19 110.81,274.14 112.0,274.1 113.22,274.06 114.41,273.99 115.62,273.92 116.93,273.84 118.37,273.77 120.0,273.7 121.83,273.67 123.8,273.66 125.91,273.66 128.15,273.63 130.52,273.55 133.0,273.4 135.7,273.11 138.63,272.68 141.69,272.2 144.76,271.76 147.73,271.43 150.5,271.3 153.1,271.41 155.63,271.71 158.06,272.12 160.37,272.58 162.53,273.03 164.5,273.4 166.25,273.69 167.8,273.95 169.19,274.19 170.48,274.44 171.73,274.7 173.0,275.0 174.29,275.35 175.56,275.74 176.78,276.16 177.94,276.56 179.02,276.91 180.0,277.2 180.81,277.41 181.44,277.56 182.0,277.67 182.56,277.75 183.19,277.82 184.0,277.9 184.99,277.97 186.11,278.02 187.31,278.06 188.56,278.1 189.8,278.14 191.0,278.2 192.19,278.28 193.41,278.38 194.62,278.48 195.81,278.58 196.95,278.65 198.0,278.7 198.93,278.71 199.74,278.7 200.5,278.67 201.26,278.63 202.07,278.57 203.0,278.5 203.97,278.42 204.93,278.33 205.94,278.23 207.07,278.11 208.41,277.97 210.0,277.8 211.97,277.62 214.28,277.42 216.78,277.21 219.33,276.96 221.79,276.66 224.0,276.3 225.93,275.86 227.7,275.34 229.36,274.77 231.0,274.19 232.69,273.62 234.5,273.1 236.43,272.67 238.44,272.32 240.49,271.98 242.56,271.6 244.64,271.13 246.7,270.5 248.77,269.69 250.86,268.73 252.96,267.67 255.03,266.57 257.05,265.46 259.0,264.4 260.79,263.39 262.44,262.38 264.04,261.38 265.68,260.35 267.47,259.3 269.5,258.2 271.9,257.04 274.6,255.82 277.46,254.57 280.29,253.32 282.92,252.09 285.2,250.9 287.1,249.72 288.76,248.54 290.23,247.37 291.56,246.25 292.8,245.22 294.0,244.3 295.13,243.54 296.13,242.93 297.04,242.41 297.9,241.9 298.74,241.35 299.6,240.7 300.43,239.93 301.21,239.09 301.96,238.21 302.74,237.31 303.57,236.43 304.5,235.6 305.59,234.79 306.81,233.97 308.09,233.17 309.35,232.41 310.51,231.72 311.5,231.1 312.21,230.61 312.67,230.24 313.04,229.94 313.45,229.63 314.06,229.27 315.0,228.8 316.41,228.17 318.19,227.42 320.16,226.62 322.14,225.82 323.95,225.1 325.4,224.5 326.3,224.14 326.76,223.97 327.04,223.87 327.41,223.72 328.14,223.37 329.5,222.7 331.66,221.57 334.45,220.06 337.6,218.35 340.84,216.64 343.89,215.13 346.5,214.0 348.63,213.26 350.48,212.74 352.16,212.42 353.74,212.26 355.33,212.19 357.0,212.2 358.73,212.36 360.44,212.73 362.14,213.2 363.87,213.69 365.65,214.08 367.5,214.3 369.41,214.31 371.37,214.2 373.38,214.0 375.44,213.76 377.54,213.51 379.7,213.3 381.91,213.09 384.17,212.83 386.48,212.57 388.83,212.36 391.24,212.22 393.7,212.2 396.29,212.36 399.03,212.66 401.82,213.04 404.56,213.44 407.15,213.78 409.5,214.0 411.56,214.1 413.39,214.12 415.08,214.09 416.7,214.02 418.31,213.92 420.0,213.8 421.74,213.65 423.47,213.44 425.19,213.21 426.93,212.97 428.7,212.72 430.5,212.5 432.39,212.27 434.37,212.02 436.37,211.78 438.33,211.56 440.2,211.39 441.9,211.3 443.36,211.28 444.6,211.31 445.74,211.4 446.9,211.54 448.18,211.74 449.7,212.0 451.51,212.36 453.53,212.82 455.68,213.34 457.87,213.87 460.0,214.37 462.0,214.8 463.77,215.14 465.37,215.43 466.93,215.69 468.55,215.94 470.37,216.21 472.5,216.5 475.07,216.78 478.01,217.02 481.14,217.27 484.3,217.59 487.31,218.01 490.0,218.6 492.34,219.42 494.46,220.43 496.42,221.56 498.32,222.71 500.22,223.79 502.2,224.7 504.27,225.43 506.36,226.06 508.46,226.61 510.53,227.13 512.55,227.65 514.5,228.2 516.38,228.78 518.2,229.35 519.98,229.92 521.7,230.5 523.38,231.09 525.0,231.7 526.58,232.32 528.12,232.94 529.61,233.57 531.04,234.23 532.41,234.9 533.7,235.6 534.89,236.33 535.98,237.1 537.0,237.89 537.99,238.69 538.98,239.5 540.0,240.3 541.05,241.09 542.1,241.86 543.16,242.64 544.21,243.45 545.26,244.29 546.3,245.2 547.34,246.19 548.37,247.27 549.4,248.38 550.43,249.5 551.46,250.59 552.5,251.6 553.47,252.51 554.36,253.33 555.26,254.12 556.24,254.93 557.39,255.8 558.8,256.8 560.52,257.94 562.5,259.19 564.66,260.51 566.9,261.86 569.14,263.2 571.3,264.5 573.47,265.8 575.73,267.14 577.99,268.47 580.17,269.75 582.17,270.94 583.9,272.0 585.32,272.91 586.49,273.71 587.47,274.42 588.36,275.06 589.21,275.64 590.1,276.2 590.89,276.7 591.49,277.13 592.06,277.51 592.74,277.87 593.71,278.22 595.1,278.6 597.0,279.01 599.31,279.43 601.89,279.84 604.62,280.25 607.37,280.64 610.0,281.0 612.65,281.31 615.44,281.59 618.24,281.84 620.94,282.09 623.4,282.37 625.5,282.7 627.16,283.08 628.46,283.5 629.53,283.94 630.48,284.39 631.43,284.85 632.5,285.3 633.75,285.78 635.09,286.29 636.44,286.81 637.69,287.3 638.74,287.71 639.5,288" fill="none" stroke="#1c1c9c" stroke-width="1.05" stroke-linejoin="round"/>
<line x1="14.5" y1="390.5" x2="14.5" y2="487" stroke="#e1e1e1" stroke-width="1"/>
<line x1="39.5" y1="390.5" x2="39.5" y2="487" stroke="#e1e1e1" stroke-width="1"/>
<line x1="64.5" y1="390.5" x2="64.5" y2="487" stroke="#e1e1e1" stroke-width="1"/>
<line x1="109.5" y1="390.5" x2="109.5" y2="487" stroke="#e1e1e1" stroke-width="1"/>
<line x1="134.5" y1="390.5" x2="134.5" y2="487" stroke="#e1e1e1" stroke-width="1"/>
<line x1="159.5" y1="390.5" x2="159.5" y2="487" stroke="#e1e1e1" stroke-width="1"/>
<line x1="184.5" y1="390.5" x2="184.5" y2="487" stroke="#e1e1e1" stroke-width="1"/>
<line x1="209.5" y1="390.5" x2="209.5" y2="487" stroke="#e1e1e1" stroke-width="1"/>
<line x1="234.5" y1="390.5" x2="234.5" y2="487" stroke="#e1e1e1" stroke-width="1"/>
<line x1="259.5" y1="390.5" x2="259.5" y2="487" stroke="#e1e1e1" stroke-width="1"/>
<line x1="284.5" y1="390.5" x2="284.5" y2="487" stroke="#e1e1e1" stroke-width="1"/>
<line x1="304.5" y1="390.5" x2="304.5" y2="487" stroke="#e1e1e1" stroke-width="1"/>
<line x1="329.5" y1="390.5" x2="329.5" y2="487" stroke="#e1e1e1" stroke-width="1"/>
<line x1="354.5" y1="390.5" x2="354.5" y2="487" stroke="#e1e1e1" stroke-width="1"/>
<line x1="379.5" y1="390.5" x2="379.5" y2="487" stroke="#e1e1e1" stroke-width="1"/>
<line x1="424.5" y1="390.5" x2="424.5" y2="487" stroke="#e1e1e1" stroke-width="1"/>
<line x1="449.5" y1="390.5" x2="449.5" y2="487" stroke="#e1e1e1" stroke-width="1"/>
<line x1="474.5" y1="390.5" x2="474.5" y2="487" stroke="#e1e1e1" stroke-width="1"/>
<line x1="499.5" y1="390.5" x2="499.5" y2="487" stroke="#e1e1e1" stroke-width="1"/>
<line x1="524.5" y1="390.5" x2="524.5" y2="487" stroke="#e1e1e1" stroke-width="1"/>
<line x1="549.5" y1="390.5" x2="549.5" y2="487" stroke="#e1e1e1" stroke-width="1"/>
<line x1="574.5" y1="390.5" x2="574.5" y2="487" stroke="#e1e1e1" stroke-width="1"/>
<line x1="599.5" y1="390.5" x2="599.5" y2="487" stroke="#e1e1e1" stroke-width="1"/>
<line x1="89.5" y1="390.5" x2="89.5" y2="487" stroke="#bdbdbd" stroke-width="1"/>
<line x1="189.5" y1="390.5" x2="189.5" y2="487" stroke="#bdbdbd" stroke-width="1"/>
<line x1="299.5" y1="390.5" x2="299.5" y2="487" stroke="#bdbdbd" stroke-width="1"/>
<line x1="404.5" y1="390.5" x2="404.5" y2="487" stroke="#bdbdbd" stroke-width="1"/>
<line x1="509.5" y1="390.5" x2="509.5" y2="487" stroke="#bdbdbd" stroke-width="1"/>
<line x1="624.5" y1="390.5" x2="624.5" y2="487" stroke="#bdbdbd" stroke-width="1"/>
<line x1="0.5" y1="402.5" x2="646.5" y2="402.5" stroke="#e1e1e1" stroke-width="1" />
<line x1="0.5" y1="416.5" x2="646.5" y2="416.5" stroke="#e1e1e1" stroke-width="1" />
<line x1="0.5" y1="431.5" x2="646.5" y2="431.5" stroke="#e1e1e1" stroke-width="1" />
<line x1="0.5" y1="446.5" x2="646.5" y2="446.5" stroke="#e1e1e1" stroke-width="1" />
<line x1="0.5" y1="461.5" x2="646.5" y2="461.5" stroke="#e1e1e1" stroke-width="1" />
<line x1="0.5" y1="475.5" x2="646.5" y2="475.5" stroke="#e1e1e1" stroke-width="1" />
<rect x="1" y="391.5" width="225" height="11" fill="#fff"/>
<clipPath id="dc"><rect x="1" y="390" width="645.5" height="100"/></clipPath>
<g clip-path="url(#dc)">
<rect x="-2.5" y="438.2" width="5" height="8.100000000000023" fill="#6a9bd3" stroke="#2f5f9e" stroke-width="0.95"/>
<rect x="2.5" y="440.5" width="5" height="5.800000000000011" fill="#6a9bd3" stroke="#2f5f9e" stroke-width="0.95"/>
<rect x="7.5" y="443.5" width="5" height="2.8000000000000114" fill="#6a9bd3" stroke="#2f5f9e" stroke-width="0.95"/>
<rect x="12.5" y="446.3" width="5" height="2.099999999999966" fill="#6a9bd3" stroke="#2f5f9e" stroke-width="0.95"/>
<rect x="17.5" y="446.3" width="5" height="6.099999999999966" fill="#6a9bd3" stroke="#2f5f9e" stroke-width="0.95"/>
<rect x="22.5" y="446.3" width="5" height="7.300000000000011" fill="#6a9bd3" stroke="#2f5f9e" stroke-width="0.95"/>
<rect x="27.5" y="446.3" width="5" height="7.300000000000011" fill="#6a9bd3" stroke="#2f5f9e" stroke-width="0.95"/>
<rect x="32.5" y="446.3" width="5" height="9.099999999999966" fill="#6a9bd3" stroke="#2f5f9e" stroke-width="0.95"/>
<rect x="37.5" y="446.3" width="5" height="8.199999999999989" fill="#6a9bd3" stroke="#2f5f9e" stroke-width="0.95"/>
<rect x="42.5" y="446.3" width="5" height="5.599999999999966" fill="#6a9bd3" stroke="#2f5f9e" stroke-width="0.95"/>
<rect x="47.5" y="446.3" width="5" height="3.8000000000000114" fill="#6a9bd3" stroke="#2f5f9e" stroke-width="0.95"/>
<rect x="52.5" y="446.3" width="5" height="2.099999999999966" fill="#6a9bd3" stroke="#2f5f9e" stroke-width="0.95"/>
<rect x="57.5" y="446.3" width="5" height="1.6999999999999886" fill="#6a9bd3" stroke="#2f5f9e" stroke-width="0.95"/>
<rect x="62.5" y="446.3" width="5" height="2.8999999999999773" fill="#6a9bd3" stroke="#2f5f9e" stroke-width="0.95"/>
<rect x="67.5" y="445.9" width="5" height="0.8000000000000114" fill="#6a9bd3" stroke="#2f5f9e" stroke-width="0.95"/>
<rect x="72.5" y="444.3" width="5" height="2.0" fill="#6a9bd3" stroke="#2f5f9e" stroke-width="0.95"/>
<rect x="77.5" y="443.5" width="5" height="2.8000000000000114" fill="#6a9bd3" stroke="#2f5f9e" stroke-width="0.95"/>
<rect x="82.5" y="442.6" width="5" height="3.6999999999999886" fill="#6a9bd3" stroke="#2f5f9e" stroke-width="0.95"/>
<rect x="87.5" y="441.4" width="5" height="4.900000000000034" fill="#6a9bd3" stroke="#2f5f9e" stroke-width="0.95"/>
<rect x="92.5" y="441.4" width="5" height="4.900000000000034" fill="#6a9bd3" stroke="#2f5f9e" stroke-width="0.95"/>
<rect x="97.5" y="439.3" width="5" height="7.0" fill="#6a9bd3" stroke="#2f5f9e" stroke-width="0.95"/>
<rect x="102.5" y="437.5" width="5" height="8.800000000000011" fill="#6a9bd3" stroke="#2f5f9e" stroke-width="0.95"/>
<rect x="107.5" y="433.5" width="5" height="12.800000000000011" fill="#6a9bd3" stroke="#2f5f9e" stroke-width="0.95"/>
<rect x="112.5" y="427.7" width="5" height="18.600000000000023" fill="#6a9bd3" stroke="#2f5f9e" stroke-width="0.95"/>
<rect x="117.5" y="426.5" width="5" height="19.80000000000001" fill="#6a9bd3" stroke="#2f5f9e" stroke-width="0.95"/>
<rect x="122.5" y="430.9" width="5" height="15.400000000000034" fill="#6a9bd3" stroke="#2f5f9e" stroke-width="0.95"/>
<rect x="127.5" y="430.3" width="5" height="16.0" fill="#6a9bd3" stroke="#2f5f9e" stroke-width="0.95"/>
<rect x="132.5" y="431.4" width="5" height="14.900000000000034" fill="#6a9bd3" stroke="#2f5f9e" stroke-width="0.95"/>
<rect x="137.5" y="434.4" width="5" height="11.900000000000034" fill="#6a9bd3" stroke="#2f5f9e" stroke-width="0.95"/>
<rect x="142.5" y="436.1" width="5" height="10.199999999999989" fill="#6a9bd3" stroke="#2f5f9e" stroke-width="0.95"/>
<rect x="147.5" y="439.3" width="5" height="7.0" fill="#6a9bd3" stroke="#2f5f9e" stroke-width="0.95"/>
<rect x="152.5" y="443.5" width="5" height="2.8000000000000114" fill="#6a9bd3" stroke="#2f5f9e" stroke-width="0.95"/>
<rect x="157.5" y="443.5" width="5" height="2.8000000000000114" fill="#6a9bd3" stroke="#2f5f9e" stroke-width="0.95"/>
<rect x="162.5" y="444.3" width="5" height="2.0" fill="#6a9bd3" stroke="#2f5f9e" stroke-width="0.95"/>
<rect x="167.5" y="446.3" width="5" height="2.099999999999966" fill="#6a9bd3" stroke="#2f5f9e" stroke-width="0.95"/>
<rect x="172.5" y="446.3" width="5" height="5.199999999999989" fill="#6a9bd3" stroke="#2f5f9e" stroke-width="0.95"/>
<rect x="177.5" y="446.3" width="5" height="7.0" fill="#6a9bd3" stroke="#2f5f9e" stroke-width="0.95"/>
<rect x="182.5" y="446.3" width="5" height="5.899999999999977" fill="#6a9bd3" stroke="#2f5f9e" stroke-width="0.95"/>
<rect x="187.5" y="446.3" width="5" height="7.0" fill="#6a9bd3" stroke="#2f5f9e" stroke-width="0.95"/>
<rect x="192.5" y="446.3" width="5" height="5.899999999999977" fill="#6a9bd3" stroke="#2f5f9e" stroke-width="0.95"/>
<rect x="197.5" y="446.3" width="5" height="4.199999999999989" fill="#6a9bd3" stroke="#2f5f9e" stroke-width="0.95"/>
<rect x="202.5" y="446.3" width="5" height="0.8000000000000114" fill="#6a9bd3" stroke="#2f5f9e" stroke-width="0.95"/>
<rect x="207.5" y="443.1" width="5" height="3.1999999999999886" fill="#6a9bd3" stroke="#2f5f9e" stroke-width="0.95"/>
<rect x="212.5" y="442" width="5" height="4.300000000000011" fill="#6a9bd3" stroke="#2f5f9e" stroke-width="0.95"/>
<rect x="217.5" y="439.2" width="5" height="7.100000000000023" fill="#6a9bd3" stroke="#2f5f9e" stroke-width="0.95"/>
<rect x="222.5" y="440.6" width="5" height="5.699999999999989" fill="#6a9bd3" stroke="#2f5f9e" stroke-width="0.95"/>
<rect x="227.5" y="438.7" width="5" height="7.600000000000023" fill="#6a9bd3" stroke="#2f5f9e" stroke-width="0.95"/>
<rect x="232.5" y="435.2" width="5" height="11.100000000000023" fill="#6a9bd3" stroke="#2f5f9e" stroke-width="0.95"/>
<rect x="237.5" y="433.1" width="5" height="13.199999999999989" fill="#6a9bd3" stroke="#2f5f9e" stroke-width="0.95"/>
<rect x="242.5" y="432.1" width="5" height="14.199999999999989" fill="#6a9bd3" stroke="#2f5f9e" stroke-width="0.95"/>
<rect x="247.5" y="428.2" width="5" height="18.100000000000023" fill="#6a9bd3" stroke="#2f5f9e" stroke-width="0.95"/>
<rect x="252.5" y="426.1" width="5" height="20.19999999999999" fill="#6a9bd3" stroke="#2f5f9e" stroke-width="0.95"/>
<rect x="257.5" y="431.2" width="5" height="15.100000000000023" fill="#6a9bd3" stroke="#2f5f9e" stroke-width="0.95"/>
<rect x="262.5" y="435.2" width="5" height="11.100000000000023" fill="#6a9bd3" stroke="#2f5f9e" stroke-width="0.95"/>
<rect x="267.5" y="439.1" width="5" height="7.199999999999989" fill="#6a9bd3" stroke="#2f5f9e" stroke-width="0.95"/>
<rect x="272.5" y="443.5" width="5" height="2.8000000000000114" fill="#6a9bd3" stroke="#2f5f9e" stroke-width="0.95"/>
<rect x="277.5" y="445.9" width="5" height="0.8000000000000114" fill="#6a9bd3" stroke="#2f5f9e" stroke-width="0.95"/>
<rect x="282.5" y="446.3" width="5" height="2.8999999999999773" fill="#6a9bd3" stroke="#2f5f9e" stroke-width="0.95"/>
<rect x="287.5" y="446.3" width="5" height="0.8000000000000114" fill="#6a9bd3" stroke="#2f5f9e" stroke-width="0.95"/>
<rect x="292.5" y="444.3" width="5" height="2.0" fill="#6a9bd3" stroke="#2f5f9e" stroke-width="0.95"/>
<rect x="297.5" y="438.4" width="5" height="7.900000000000034" fill="#6a9bd3" stroke="#2f5f9e" stroke-width="0.95"/>
<rect x="302.5" y="437.3" width="5" height="9.0" fill="#6a9bd3" stroke="#2f5f9e" stroke-width="0.95"/>
<rect x="307.5" y="439.3" width="5" height="7.0" fill="#6a9bd3" stroke="#2f5f9e" stroke-width="0.95"/>
<rect x="312.5" y="446.3" width="5" height="0.8000000000000114" fill="#6a9bd3" stroke="#2f5f9e" stroke-width="0.95"/>
<rect x="317.5" y="446.3" width="5" height="6.099999999999966" fill="#6a9bd3" stroke="#2f5f9e" stroke-width="0.95"/>
<rect x="322.5" y="446.3" width="5" height="9.899999999999977" fill="#6a9bd3" stroke="#2f5f9e" stroke-width="0.95"/>
<rect x="327.5" y="446.3" width="5" height="7.699999999999989" fill="#6a9bd3" stroke="#2f5f9e" stroke-width="0.95"/>
<rect x="332.5" y="446.3" width="5" height="9.899999999999977" fill="#6a9bd3" stroke="#2f5f9e" stroke-width="0.95"/>
<rect x="337.5" y="446.3" width="5" height="7.300000000000011" fill="#6a9bd3" stroke="#2f5f9e" stroke-width="0.95"/>
<rect x="342.5" y="446.3" width="5" height="9.099999999999966" fill="#6a9bd3" stroke="#2f5f9e" stroke-width="0.95"/>
<rect x="347.5" y="446.3" width="5" height="12.5" fill="#6a9bd3" stroke="#2f5f9e" stroke-width="0.95"/>
<rect x="352.5" y="446.3" width="5" height="18.30000000000001" fill="#6a9bd3" stroke="#2f5f9e" stroke-width="0.95"/>
<rect x="357.5" y="446.3" width="5" height="21.30000000000001" fill="#6a9bd3" stroke="#2f5f9e" stroke-width="0.95"/>
<rect x="362.5" y="446.3" width="5" height="23.899999999999977" fill="#6a9bd3" stroke="#2f5f9e" stroke-width="0.95"/>
<rect x="367.5" y="446.3" width="5" height="20.099999999999966" fill="#6a9bd3" stroke="#2f5f9e" stroke-width="0.95"/>
<rect x="372.5" y="446.3" width="5" height="19.5" fill="#6a9bd3" stroke="#2f5f9e" stroke-width="0.95"/>
<rect x="377.5" y="446.3" width="5" height="14.300000000000011" fill="#6a9bd3" stroke="#2f5f9e" stroke-width="0.95"/>
<rect x="382.5" y="446.3" width="5" height="11.099999999999966" fill="#6a9bd3" stroke="#2f5f9e" stroke-width="0.95"/>
<rect x="387.5" y="446.3" width="5" height="8.699999999999989" fill="#6a9bd3" stroke="#2f5f9e" stroke-width="0.95"/>
<rect x="392.5" y="446.3" width="5" height="6.800000000000011" fill="#6a9bd3" stroke="#2f5f9e" stroke-width="0.95"/>
<rect x="397.5" y="446.3" width="5" height="9.899999999999977" fill="#6a9bd3" stroke="#2f5f9e" stroke-width="0.95"/>
<rect x="402.5" y="446.3" width="5" height="12.0" fill="#6a9bd3" stroke="#2f5f9e" stroke-width="0.95"/>
<rect x="407.5" y="446.3" width="5" height="12.0" fill="#6a9bd3" stroke="#2f5f9e" stroke-width="0.95"/>
<rect x="412.5" y="446.3" width="5" height="10.300000000000011" fill="#6a9bd3" stroke="#2f5f9e" stroke-width="0.95"/>
<rect x="417.5" y="446.3" width="5" height="9.099999999999966" fill="#6a9bd3" stroke="#2f5f9e" stroke-width="0.95"/>
<rect x="422.5" y="446.3" width="5" height="5.899999999999977" fill="#6a9bd3" stroke="#2f5f9e" stroke-width="0.95"/>
<rect x="427.5" y="446.3" width="5" height="2.099999999999966" fill="#6a9bd3" stroke="#2f5f9e" stroke-width="0.95"/>
<rect x="432.5" y="446.3" width="5" height="0.8999999999999773" fill="#6a9bd3" stroke="#2f5f9e" stroke-width="0.95"/>
<rect x="437.5" y="445.4" width="5" height="0.9000000000000341" fill="#6a9bd3" stroke="#2f5f9e" stroke-width="0.95"/>
<rect x="442.5" y="446.3" width="5" height="0.8000000000000114" fill="#6a9bd3" stroke="#2f5f9e" stroke-width="0.95"/>
<rect x="447.5" y="446.3" width="5" height="0.8000000000000114" fill="#6a9bd3" stroke="#2f5f9e" stroke-width="0.95"/>
<rect x="452.5" y="446.3" width="5" height="0.8000000000000114" fill="#6a9bd3" stroke="#2f5f9e" stroke-width="0.95"/>
<rect x="457.5" y="446.3" width="5" height="2.099999999999966" fill="#6a9bd3" stroke="#2f5f9e" stroke-width="0.95"/>
<rect x="462.5" y="446.3" width="5" height="4.199999999999989" fill="#6a9bd3" stroke="#2f5f9e" stroke-width="0.95"/>
<rect x="467.5" y="446.3" width="5" height="2.8999999999999773" fill="#6a9bd3" stroke="#2f5f9e" stroke-width="0.95"/>
<rect x="472.5" y="443.5" width="5" height="2.8000000000000114" fill="#6a9bd3" stroke="#2f5f9e" stroke-width="0.95"/>
<rect x="477.5" y="436.5" width="5" height="9.800000000000011" fill="#6a9bd3" stroke="#2f5f9e" stroke-width="0.95"/>
<rect x="482.5" y="434.4" width="5" height="11.900000000000034" fill="#6a9bd3" stroke="#2f5f9e" stroke-width="0.95"/>
<rect x="487.5" y="437.5" width="5" height="8.800000000000011" fill="#6a9bd3" stroke="#2f5f9e" stroke-width="0.95"/>
<rect x="492.5" y="440.5" width="5" height="5.800000000000011" fill="#6a9bd3" stroke="#2f5f9e" stroke-width="0.95"/>
<rect x="497.5" y="440.8" width="5" height="5.5" fill="#6a9bd3" stroke="#2f5f9e" stroke-width="0.95"/>
<rect x="502.5" y="438.4" width="5" height="7.900000000000034" fill="#6a9bd3" stroke="#2f5f9e" stroke-width="0.95"/>
<rect x="507.5" y="437.3" width="5" height="9.0" fill="#6a9bd3" stroke="#2f5f9e" stroke-width="0.95"/>
<rect x="512.5" y="440.5" width="5" height="5.800000000000011" fill="#6a9bd3" stroke="#2f5f9e" stroke-width="0.95"/>
<rect x="517.5" y="446.3" width="5" height="0.8000000000000114" fill="#6a9bd3" stroke="#2f5f9e" stroke-width="0.95"/>
<rect x="522.5" y="446.3" width="5" height="2.099999999999966" fill="#6a9bd3" stroke="#2f5f9e" stroke-width="0.95"/>
<rect x="527.5" y="446.3" width="5" height="3.3000000000000114" fill="#6a9bd3" stroke="#2f5f9e" stroke-width="0.95"/>
<rect x="532.5" y="446.3" width="5" height="5.199999999999989" fill="#6a9bd3" stroke="#2f5f9e" stroke-width="0.95"/>
<rect x="537.5" y="446.3" width="5" height="6.199999999999989" fill="#6a9bd3" stroke="#2f5f9e" stroke-width="0.95"/>
<rect x="542.5" y="446.3" width="5" height="7.300000000000011" fill="#6a9bd3" stroke="#2f5f9e" stroke-width="0.95"/>
<rect x="547.5" y="446.3" width="5" height="9.099999999999966" fill="#6a9bd3" stroke="#2f5f9e" stroke-width="0.95"/>
<rect x="552.5" y="446.3" width="5" height="7.699999999999989" fill="#6a9bd3" stroke="#2f5f9e" stroke-width="0.95"/>
<rect x="557.5" y="446.3" width="5" height="5.899999999999977" fill="#6a9bd3" stroke="#2f5f9e" stroke-width="0.95"/>
<rect x="562.5" y="446.3" width="5" height="5.899999999999977" fill="#6a9bd3" stroke="#2f5f9e" stroke-width="0.95"/>
<rect x="567.5" y="446.3" width="5" height="5.899999999999977" fill="#6a9bd3" stroke="#2f5f9e" stroke-width="0.95"/>
<rect x="572.5" y="446.3" width="5" height="5.199999999999989" fill="#6a9bd3" stroke="#2f5f9e" stroke-width="0.95"/>
<rect x="577.5" y="446.3" width="5" height="2.099999999999966" fill="#6a9bd3" stroke="#2f5f9e" stroke-width="0.95"/>
<rect x="582.5" y="445.4" width="5" height="0.9000000000000341" fill="#6a9bd3" stroke="#2f5f9e" stroke-width="0.95"/>
<rect x="587.5" y="442.6" width="5" height="3.6999999999999886" fill="#6a9bd3" stroke="#2f5f9e" stroke-width="0.95"/>
<rect x="592.5" y="441.4" width="5" height="4.900000000000034" fill="#6a9bd3" stroke="#2f5f9e" stroke-width="0.95"/>
<rect x="597.5" y="438.2" width="5" height="8.100000000000023" fill="#6a9bd3" stroke="#2f5f9e" stroke-width="0.95"/>
<rect x="602.5" y="437.5" width="5" height="8.800000000000011" fill="#6a9bd3" stroke="#2f5f9e" stroke-width="0.95"/>
<rect x="607.5" y="435.6" width="5" height="10.699999999999989" fill="#6a9bd3" stroke="#2f5f9e" stroke-width="0.95"/>
<rect x="612.5" y="433.5" width="5" height="12.800000000000011" fill="#6a9bd3" stroke="#2f5f9e" stroke-width="0.95"/>
<rect x="617.5" y="432.3" width="5" height="14.0" fill="#6a9bd3" stroke="#2f5f9e" stroke-width="0.95"/>
<rect x="622.5" y="432.3" width="5" height="14.0" fill="#6a9bd3" stroke="#2f5f9e" stroke-width="0.95"/>
<rect x="627.5" y="433.5" width="5" height="12.800000000000011" fill="#6a9bd3" stroke="#2f5f9e" stroke-width="0.95"/>
<rect x="632.5" y="438.2" width="5" height="8.100000000000023" fill="#6a9bd3" stroke="#2f5f9e" stroke-width="0.95"/>
<rect x="637.5" y="444.5" width="5" height="1.8000000000000114" fill="#6a9bd3" stroke="#2f5f9e" stroke-width="0.95"/>
<polyline points="-0.5,462.3 4.5,461.5 9.5,460.6 14.5,461.5 19.5,462.7 24.5,465 29.5,467.1 34.5,469 39.5,471.1 44.5,472.5 49.5,473.4 54.5,473.7 59.5,474.6 64.5,475.1 69.5,475.1 74.5,474.6 79.5,473.7 84.5,473.2 89.5,472 94.5,470.2 99.5,469 104.5,467.1 109.5,463.2 114.5,458.5 119.5,453.6 124.5,449.2 129.5,445.4 134.5,441.9 139.5,439.3 144.5,437 149.5,435.2 154.5,434.9 159.5,434 164.5,433.5 169.5,434.4 174.5,436.1 179.5,438.2 184.5,440.5 189.5,441.9 194.5,443.1 199.5,443.6 204.5,443.6 209.5,442.6 214.5,441.4 219.5,439.8 224.5,438.4 229.5,436.1 234.5,433.8 239.5,430.9 244.5,427.7 249.5,423 254.5,418.1 259.5,414.6 264.5,411.6 269.5,410 274.5,409.9 279.5,409.9 284.5,409.9 289.5,409.9 294.5,409.5 299.5,407.6 304.5,405.5 309.5,404.1 314.5,404.4 319.5,406.6 324.5,409 329.5,410.8 334.5,413.7 339.5,415.6 344.5,417.7 349.5,420.9 354.5,425.3 359.5,431.4 364.5,437 369.5,441.4 374.5,446.1 379.5,449.6 384.5,452.7 389.5,455.4 394.5,457.6 399.5,459.7 404.5,463.2 409.5,466.4 414.5,469 419.5,471.4 424.5,472.5 429.5,472.8 434.5,472.6 439.5,472.5 444.5,472.8 449.5,473.4 454.5,473.7 459.5,474.1 464.5,474.6 469.5,475.1 474.5,474.6 479.5,471.1 484.5,468.5 489.5,466.7 494.5,465 499.5,463.2 504.5,461.1 509.5,459.4 514.5,458.3 519.5,458.3 524.5,459.2 529.5,459.5 534.5,461.1 539.5,462.5 544.5,464.6 549.5,466.7 554.5,468.5 559.5,469.9 564.5,471.4 569.5,473.2 574.5,474.2 579.5,475.5 584.5,474.9 589.5,473.7 594.5,472.5 599.5,471.1 604.5,469 609.5,466.7 614.5,463.2 619.5,459.7 624.5,456.2 629.5,453.3 634.5,450.6 639.5,450.1" fill="none" stroke="#ff0000" stroke-width="1.1" stroke-linejoin="round"/>
<polyline points="-0.5,454.1 4.5,455.4 9.5,458 14.5,464.6 19.5,469.9 24.5,472.8 29.5,475.5 34.5,477.7 39.5,478.3 44.5,477.6 49.5,477.2 54.5,476.5 59.5,476.5 64.5,477.2 69.5,475.1 74.5,472.8 79.5,470.7 84.5,468.8 89.5,466.7 94.5,464.6 99.5,461.8 104.5,457.6 109.5,449.2 114.5,439.6 119.5,433.1 124.5,435.2 129.5,431.4 134.5,427.4 139.5,428.6 144.5,428.6 149.5,428.6 154.5,432.1 159.5,430 164.5,432.6 169.5,437 174.5,441.9 179.5,445.4 184.5,445.7 189.5,447.8 194.5,448.4 199.5,447.5 204.5,443.6 209.5,440.1 214.5,437 219.5,433.5 224.5,433.1 229.5,429.6 234.5,423.9 239.5,418.6 244.5,413.4 249.5,406 254.5,399.1 259.5,400.9 264.5,402.1 269.5,403.5 274.5,407 279.5,409.3 284.5,414 289.5,410.4 294.5,408.2 299.5,401.4 304.5,397.7 309.5,397.7 314.5,404.4 319.5,413.2 324.5,419.1 329.5,419.6 334.5,423 339.5,421.6 344.5,426.5 349.5,432.6 354.5,443.1 359.5,453.1 364.5,461.5 369.5,461.5 374.5,465.8 379.5,464.1 384.5,464.1 389.5,464.1 394.5,464.1 399.5,469.3 404.5,474.1 409.5,478.1 414.5,478.4 419.5,480.2 424.5,478.1 429.5,474.6 434.5,473.2 439.5,471.4 444.5,473.2 449.5,473.4 454.5,474.6 459.5,476.3 464.5,478.1 469.5,478.1 474.5,472 479.5,462.3 484.5,457.1 489.5,458.3 494.5,460.1 499.5,458.3 504.5,454.5 509.5,451.5 514.5,452.7 519.5,458 524.5,461.5 529.5,463.4 534.5,466.4 539.5,468.7 544.5,472 549.5,475.5 554.5,476.3 559.5,476.7 564.5,477.6 569.5,479 574.5,479 579.5,477.2 584.5,473.7 589.5,469.9 594.5,468.1 599.5,463.2 604.5,459.4 609.5,455.4 614.5,449.2 619.5,444.5 624.5,441 629.5,439.3 634.5,442.2 639.5,447.1" fill="none" stroke="#000" stroke-width="1.6" stroke-linejoin="round"/>
</g>
<path d="M0.5,2.5 H646.5 V375.5 H0.5 Z" fill="none" stroke="#b2b2b2" stroke-width="1"/>
<line x1="0.5" y1="99.5" x2="646.5" y2="99.5" stroke="#b2b2b2" stroke-width="1" />
<path d="M0.5,489 V390.5 H646.5 V489" fill="none" stroke="#b2b2b2" stroke-width="1"/>
<line x1="4.5" y1="374" x2="4.5" y2="375" stroke="#b2b2b2"/>
<line x1="4.5" y1="389" x2="4.5" y2="390" stroke="#b2b2b2"/>
<line x1="9.5" y1="374" x2="9.5" y2="375" stroke="#b2b2b2"/>
<line x1="9.5" y1="389" x2="9.5" y2="390" stroke="#b2b2b2"/>
<line x1="14.5" y1="374" x2="14.5" y2="375" stroke="#b2b2b2"/>
<line x1="14.5" y1="389" x2="14.5" y2="390" stroke="#b2b2b2"/>
<line x1="19.5" y1="374" x2="19.5" y2="375" stroke="#b2b2b2"/>
<line x1="19.5" y1="389" x2="19.5" y2="390" stroke="#b2b2b2"/>
<line x1="24.5" y1="374" x2="24.5" y2="375" stroke="#b2b2b2"/>
<line x1="24.5" y1="389" x2="24.5" y2="390" stroke="#b2b2b2"/>
<line x1="29.5" y1="374" x2="29.5" y2="375" stroke="#b2b2b2"/>
<line x1="29.5" y1="389" x2="29.5" y2="390" stroke="#b2b2b2"/>
<line x1="34.5" y1="374" x2="34.5" y2="375" stroke="#b2b2b2"/>
<line x1="34.5" y1="389" x2="34.5" y2="390" stroke="#b2b2b2"/>
<line x1="39.5" y1="374" x2="39.5" y2="375" stroke="#b2b2b2"/>
<line x1="39.5" y1="389" x2="39.5" y2="390" stroke="#b2b2b2"/>
<line x1="44.5" y1="374" x2="44.5" y2="375" stroke="#b2b2b2"/>
<line x1="44.5" y1="389" x2="44.5" y2="390" stroke="#b2b2b2"/>
<line x1="49.5" y1="374" x2="49.5" y2="375" stroke="#b2b2b2"/>
<line x1="49.5" y1="389" x2="49.5" y2="390" stroke="#b2b2b2"/>
<line x1="54.5" y1="374" x2="54.5" y2="375" stroke="#b2b2b2"/>
<line x1="54.5" y1="389" x2="54.5" y2="390" stroke="#b2b2b2"/>
<line x1="59.5" y1="374" x2="59.5" y2="375" stroke="#b2b2b2"/>
<line x1="59.5" y1="389" x2="59.5" y2="390" stroke="#b2b2b2"/>
<line x1="64.5" y1="374" x2="64.5" y2="375" stroke="#b2b2b2"/>
<line x1="64.5" y1="389" x2="64.5" y2="390" stroke="#b2b2b2"/>
<line x1="69.5" y1="374" x2="69.5" y2="375" stroke="#b2b2b2"/>
<line x1="69.5" y1="389" x2="69.5" y2="390" stroke="#b2b2b2"/>
<line x1="74.5" y1="374" x2="74.5" y2="375" stroke="#b2b2b2"/>
<line x1="74.5" y1="389" x2="74.5" y2="390" stroke="#b2b2b2"/>
<line x1="79.5" y1="374" x2="79.5" y2="375" stroke="#b2b2b2"/>
<line x1="79.5" y1="389" x2="79.5" y2="390" stroke="#b2b2b2"/>
<line x1="84.5" y1="374" x2="84.5" y2="375" stroke="#b2b2b2"/>
<line x1="84.5" y1="389" x2="84.5" y2="390" stroke="#b2b2b2"/>
<line x1="89.5" y1="374" x2="89.5" y2="375" stroke="#b2b2b2"/>
<line x1="89.5" y1="389" x2="89.5" y2="390" stroke="#b2b2b2"/>
<line x1="94.5" y1="374" x2="94.5" y2="375" stroke="#b2b2b2"/>
<line x1="94.5" y1="389" x2="94.5" y2="390" stroke="#b2b2b2"/>
<line x1="99.5" y1="374" x2="99.5" y2="375" stroke="#b2b2b2"/>
<line x1="99.5" y1="389" x2="99.5" y2="390" stroke="#b2b2b2"/>
<line x1="104.5" y1="374" x2="104.5" y2="375" stroke="#b2b2b2"/>
<line x1="104.5" y1="389" x2="104.5" y2="390" stroke="#b2b2b2"/>
<line x1="109.5" y1="374" x2="109.5" y2="375" stroke="#b2b2b2"/>
<line x1="109.5" y1="389" x2="109.5" y2="390" stroke="#b2b2b2"/>
<line x1="114.5" y1="374" x2="114.5" y2="375" stroke="#b2b2b2"/>
<line x1="114.5" y1="389" x2="114.5" y2="390" stroke="#b2b2b2"/>
<line x1="119.5" y1="374" x2="119.5" y2="375" stroke="#b2b2b2"/>
<line x1="119.5" y1="389" x2="119.5" y2="390" stroke="#b2b2b2"/>
<line x1="124.5" y1="374" x2="124.5" y2="375" stroke="#b2b2b2"/>
<line x1="124.5" y1="389" x2="124.5" y2="390" stroke="#b2b2b2"/>
<line x1="129.5" y1="374" x2="129.5" y2="375" stroke="#b2b2b2"/>
<line x1="129.5" y1="389" x2="129.5" y2="390" stroke="#b2b2b2"/>
<line x1="134.5" y1="374" x2="134.5" y2="375" stroke="#b2b2b2"/>
<line x1="134.5" y1="389" x2="134.5" y2="390" stroke="#b2b2b2"/>
<line x1="139.5" y1="374" x2="139.5" y2="375" stroke="#b2b2b2"/>
<line x1="139.5" y1="389" x2="139.5" y2="390" stroke="#b2b2b2"/>
<line x1="144.5" y1="374" x2="144.5" y2="375" stroke="#b2b2b2"/>
<line x1="144.5" y1="389" x2="144.5" y2="390" stroke="#b2b2b2"/>
<line x1="149.5" y1="374" x2="149.5" y2="375" stroke="#b2b2b2"/>
<line x1="149.5" y1="389" x2="149.5" y2="390" stroke="#b2b2b2"/>
<line x1="154.5" y1="374" x2="154.5" y2="375" stroke="#b2b2b2"/>
<line x1="154.5" y1="389" x2="154.5" y2="390" stroke="#b2b2b2"/>
<line x1="159.5" y1="374" x2="159.5" y2="375" stroke="#b2b2b2"/>
<line x1="159.5" y1="389" x2="159.5" y2="390" stroke="#b2b2b2"/>
<line x1="164.5" y1="374" x2="164.5" y2="375" stroke="#b2b2b2"/>
<line x1="164.5" y1="389" x2="164.5" y2="390" stroke="#b2b2b2"/>
<line x1="169.5" y1="374" x2="169.5" y2="375" stroke="#b2b2b2"/>
<line x1="169.5" y1="389" x2="169.5" y2="390" stroke="#b2b2b2"/>
<line x1="174.5" y1="374" x2="174.5" y2="375" stroke="#b2b2b2"/>
<line x1="174.5" y1="389" x2="174.5" y2="390" stroke="#b2b2b2"/>
<line x1="179.5" y1="374" x2="179.5" y2="375" stroke="#b2b2b2"/>
<line x1="179.5" y1="389" x2="179.5" y2="390" stroke="#b2b2b2"/>
<line x1="184.5" y1="374" x2="184.5" y2="375" stroke="#b2b2b2"/>
<line x1="184.5" y1="389" x2="184.5" y2="390" stroke="#b2b2b2"/>
<line x1="189.5" y1="374" x2="189.5" y2="375" stroke="#b2b2b2"/>
<line x1="189.5" y1="389" x2="189.5" y2="390" stroke="#b2b2b2"/>
<line x1="194.5" y1="374" x2="194.5" y2="375" stroke="#b2b2b2"/>
<line x1="194.5" y1="389" x2="194.5" y2="390" stroke="#b2b2b2"/>
<line x1="199.5" y1="374" x2="199.5" y2="375" stroke="#b2b2b2"/>
<line x1="199.5" y1="389" x2="199.5" y2="390" stroke="#b2b2b2"/>
<line x1="204.5" y1="374" x2="204.5" y2="375" stroke="#b2b2b2"/>
<line x1="204.5" y1="389" x2="204.5" y2="390" stroke="#b2b2b2"/>
<line x1="209.5" y1="374" x2="209.5" y2="375" stroke="#b2b2b2"/>
<line x1="209.5" y1="389" x2="209.5" y2="390" stroke="#b2b2b2"/>
<line x1="214.5" y1="374" x2="214.5" y2="375" stroke="#b2b2b2"/>
<line x1="214.5" y1="389" x2="214.5" y2="390" stroke="#b2b2b2"/>
<line x1="219.5" y1="374" x2="219.5" y2="375" stroke="#b2b2b2"/>
<line x1="219.5" y1="389" x2="219.5" y2="390" stroke="#b2b2b2"/>
<line x1="224.5" y1="374" x2="224.5" y2="375" stroke="#b2b2b2"/>
<line x1="224.5" y1="389" x2="224.5" y2="390" stroke="#b2b2b2"/>
<line x1="229.5" y1="374" x2="229.5" y2="375" stroke="#b2b2b2"/>
<line x1="229.5" y1="389" x2="229.5" y2="390" stroke="#b2b2b2"/>
<line x1="234.5" y1="374" x2="234.5" y2="375" stroke="#b2b2b2"/>
<line x1="234.5" y1="389" x2="234.5" y2="390" stroke="#b2b2b2"/>
<line x1="239.5" y1="374" x2="239.5" y2="375" stroke="#b2b2b2"/>
<line x1="239.5" y1="389" x2="239.5" y2="390" stroke="#b2b2b2"/>
<line x1="244.5" y1="374" x2="244.5" y2="375" stroke="#b2b2b2"/>
<line x1="244.5" y1="389" x2="244.5" y2="390" stroke="#b2b2b2"/>
<line x1="249.5" y1="374" x2="249.5" y2="375" stroke="#b2b2b2"/>
<line x1="249.5" y1="389" x2="249.5" y2="390" stroke="#b2b2b2"/>
<line x1="254.5" y1="374" x2="254.5" y2="375" stroke="#b2b2b2"/>
<line x1="254.5" y1="389" x2="254.5" y2="390" stroke="#b2b2b2"/>
<line x1="259.5" y1="374" x2="259.5" y2="375" stroke="#b2b2b2"/>
<line x1="259.5" y1="389" x2="259.5" y2="390" stroke="#b2b2b2"/>
<line x1="264.5" y1="374" x2="264.5" y2="375" stroke="#b2b2b2"/>
<line x1="264.5" y1="389" x2="264.5" y2="390" stroke="#b2b2b2"/>
<line x1="269.5" y1="374" x2="269.5" y2="375" stroke="#b2b2b2"/>
<line x1="269.5" y1="389" x2="269.5" y2="390" stroke="#b2b2b2"/>
<line x1="274.5" y1="374" x2="274.5" y2="375" stroke="#b2b2b2"/>
<line x1="274.5" y1="389" x2="274.5" y2="390" stroke="#b2b2b2"/>
<line x1="279.5" y1="374" x2="279.5" y2="375" stroke="#b2b2b2"/>
<line x1="279.5" y1="389" x2="279.5" y2="390" stroke="#b2b2b2"/>
<line x1="284.5" y1="374" x2="284.5" y2="375" stroke="#b2b2b2"/>
<line x1="284.5" y1="389" x2="284.5" y2="390" stroke="#b2b2b2"/>
<line x1="289.5" y1="374" x2="289.5" y2="375" stroke="#b2b2b2"/>
<line x1="289.5" y1="389" x2="289.5" y2="390" stroke="#b2b2b2"/>
<line x1="294.5" y1="374" x2="294.5" y2="375" stroke="#b2b2b2"/>
<line x1="294.5" y1="389" x2="294.5" y2="390" stroke="#b2b2b2"/>
<line x1="299.5" y1="374" x2="299.5" y2="375" stroke="#b2b2b2"/>
<line x1="299.5" y1="389" x2="299.5" y2="390" stroke="#b2b2b2"/>
<line x1="304.5" y1="374" x2="304.5" y2="375" stroke="#b2b2b2"/>
<line x1="304.5" y1="389" x2="304.5" y2="390" stroke="#b2b2b2"/>
<line x1="309.5" y1="374" x2="309.5" y2="375" stroke="#b2b2b2"/>
<line x1="309.5" y1="389" x2="309.5" y2="390" stroke="#b2b2b2"/>
<line x1="314.5" y1="374" x2="314.5" y2="375" stroke="#b2b2b2"/>
<line x1="314.5" y1="389" x2="314.5" y2="390" stroke="#b2b2b2"/>
<line x1="319.5" y1="374" x2="319.5" y2="375" stroke="#b2b2b2"/>
<line x1="319.5" y1="389" x2="319.5" y2="390" stroke="#b2b2b2"/>
<line x1="324.5" y1="374" x2="324.5" y2="375" stroke="#b2b2b2"/>
<line x1="324.5" y1="389" x2="324.5" y2="390" stroke="#b2b2b2"/>
<line x1="329.5" y1="374" x2="329.5" y2="375" stroke="#b2b2b2"/>
<line x1="329.5" y1="389" x2="329.5" y2="390" stroke="#b2b2b2"/>
<line x1="334.5" y1="374" x2="334.5" y2="375" stroke="#b2b2b2"/>
<line x1="334.5" y1="389" x2="334.5" y2="390" stroke="#b2b2b2"/>
<line x1="339.5" y1="374" x2="339.5" y2="375" stroke="#b2b2b2"/>
<line x1="339.5" y1="389" x2="339.5" y2="390" stroke="#b2b2b2"/>
<line x1="344.5" y1="374" x2="344.5" y2="375" stroke="#b2b2b2"/>
<line x1="344.5" y1="389" x2="344.5" y2="390" stroke="#b2b2b2"/>
<line x1="349.5" y1="374" x2="349.5" y2="375" stroke="#b2b2b2"/>
<line x1="349.5" y1="389" x2="349.5" y2="390" stroke="#b2b2b2"/>
<line x1="354.5" y1="374" x2="354.5" y2="375" stroke="#b2b2b2"/>
<line x1="354.5" y1="389" x2="354.5" y2="390" stroke="#b2b2b2"/>
<line x1="359.5" y1="374" x2="359.5" y2="375" stroke="#b2b2b2"/>
<line x1="359.5" y1="389" x2="359.5" y2="390" stroke="#b2b2b2"/>
<line x1="364.5" y1="374" x2="364.5" y2="375" stroke="#b2b2b2"/>
<line x1="364.5" y1="389" x2="364.5" y2="390" stroke="#b2b2b2"/>
<line x1="369.5" y1="374" x2="369.5" y2="375" stroke="#b2b2b2"/>
<line x1="369.5" y1="389" x2="369.5" y2="390" stroke="#b2b2b2"/>
<line x1="374.5" y1="374" x2="374.5" y2="375" stroke="#b2b2b2"/>
<line x1="374.5" y1="389" x2="374.5" y2="390" stroke="#b2b2b2"/>
<line x1="379.5" y1="374" x2="379.5" y2="375" stroke="#b2b2b2"/>
<line x1="379.5" y1="389" x2="379.5" y2="390" stroke="#b2b2b2"/>
<line x1="384.5" y1="374" x2="384.5" y2="375" stroke="#b2b2b2"/>
<line x1="384.5" y1="389" x2="384.5" y2="390" stroke="#b2b2b2"/>
<line x1="389.5" y1="374" x2="389.5" y2="375" stroke="#b2b2b2"/>
<line x1="389.5" y1="389" x2="389.5" y2="390" stroke="#b2b2b2"/>
<line x1="394.5" y1="374" x2="394.5" y2="375" stroke="#b2b2b2"/>
<line x1="394.5" y1="389" x2="394.5" y2="390" stroke="#b2b2b2"/>
<line x1="399.5" y1="374" x2="399.5" y2="375" stroke="#b2b2b2"/>
<line x1="399.5" y1="389" x2="399.5" y2="390" stroke="#b2b2b2"/>
<line x1="404.5" y1="374" x2="404.5" y2="375" stroke="#b2b2b2"/>
<line x1="404.5" y1="389" x2="404.5" y2="390" stroke="#b2b2b2"/>
<line x1="409.5" y1="374" x2="409.5" y2="375" stroke="#b2b2b2"/>
<line x1="409.5" y1="389" x2="409.5" y2="390" stroke="#b2b2b2"/>
<line x1="414.5" y1="374" x2="414.5" y2="375" stroke="#b2b2b2"/>
<line x1="414.5" y1="389" x2="414.5" y2="390" stroke="#b2b2b2"/>
<line x1="419.5" y1="374" x2="419.5" y2="375" stroke="#b2b2b2"/>
<line x1="419.5" y1="389" x2="419.5" y2="390" stroke="#b2b2b2"/>
<line x1="424.5" y1="374" x2="424.5" y2="375" stroke="#b2b2b2"/>
<line x1="424.5" y1="389" x2="424.5" y2="390" stroke="#b2b2b2"/>
<line x1="429.5" y1="374" x2="429.5" y2="375" stroke="#b2b2b2"/>
<line x1="429.5" y1="389" x2="429.5" y2="390" stroke="#b2b2b2"/>
<line x1="434.5" y1="374" x2="434.5" y2="375" stroke="#b2b2b2"/>
<line x1="434.5" y1="389" x2="434.5" y2="390" stroke="#b2b2b2"/>
<line x1="439.5" y1="374" x2="439.5" y2="375" stroke="#b2b2b2"/>
<line x1="439.5" y1="389" x2="439.5" y2="390" stroke="#b2b2b2"/>
<line x1="444.5" y1="374" x2="444.5" y2="375" stroke="#b2b2b2"/>
<line x1="444.5" y1="389" x2="444.5" y2="390" stroke="#b2b2b2"/>
<line x1="449.5" y1="374" x2="449.5" y2="375" stroke="#b2b2b2"/>
<line x1="449.5" y1="389" x2="449.5" y2="390" stroke="#b2b2b2"/>
<line x1="454.5" y1="374" x2="454.5" y2="375" stroke="#b2b2b2"/>
<line x1="454.5" y1="389" x2="454.5" y2="390" stroke="#b2b2b2"/>
<line x1="459.5" y1="374" x2="459.5" y2="375" stroke="#b2b2b2"/>
<line x1="459.5" y1="389" x2="459.5" y2="390" stroke="#b2b2b2"/>
<line x1="464.5" y1="374" x2="464.5" y2="375" stroke="#b2b2b2"/>
<line x1="464.5" y1="389" x2="464.5" y2="390" stroke="#b2b2b2"/>
<line x1="469.5" y1="374" x2="469.5" y2="375" stroke="#b2b2b2"/>
<line x1="469.5" y1="389" x2="469.5" y2="390" stroke="#b2b2b2"/>
<line x1="474.5" y1="374" x2="474.5" y2="375" stroke="#b2b2b2"/>
<line x1="474.5" y1="389" x2="474.5" y2="390" stroke="#b2b2b2"/>
<line x1="479.5" y1="374" x2="479.5" y2="375" stroke="#b2b2b2"/>
<line x1="479.5" y1="389" x2="479.5" y2="390" stroke="#b2b2b2"/>
<line x1="484.5" y1="374" x2="484.5" y2="375" stroke="#b2b2b2"/>
<line x1="484.5" y1="389" x2="484.5" y2="390" stroke="#b2b2b2"/>
<line x1="489.5" y1="374" x2="489.5" y2="375" stroke="#b2b2b2"/>
<line x1="489.5" y1="389" x2="489.5" y2="390" stroke="#b2b2b2"/>
<line x1="494.5" y1="374" x2="494.5" y2="375" stroke="#b2b2b2"/>
<line x1="494.5" y1="389" x2="494.5" y2="390" stroke="#b2b2b2"/>
<line x1="499.5" y1="374" x2="499.5" y2="375" stroke="#b2b2b2"/>
<line x1="499.5" y1="389" x2="499.5" y2="390" stroke="#b2b2b2"/>
<line x1="504.5" y1="374" x2="504.5" y2="375" stroke="#b2b2b2"/>
<line x1="504.5" y1="389" x2="504.5" y2="390" stroke="#b2b2b2"/>
<line x1="509.5" y1="374" x2="509.5" y2="375" stroke="#b2b2b2"/>
<line x1="509.5" y1="389" x2="509.5" y2="390" stroke="#b2b2b2"/>
<line x1="514.5" y1="374" x2="514.5" y2="375" stroke="#b2b2b2"/>
<line x1="514.5" y1="389" x2="514.5" y2="390" stroke="#b2b2b2"/>
<line x1="519.5" y1="374" x2="519.5" y2="375" stroke="#b2b2b2"/>
<line x1="519.5" y1="389" x2="519.5" y2="390" stroke="#b2b2b2"/>
<line x1="524.5" y1="374" x2="524.5" y2="375" stroke="#b2b2b2"/>
<line x1="524.5" y1="389" x2="524.5" y2="390" stroke="#b2b2b2"/>
<line x1="529.5" y1="374" x2="529.5" y2="375" stroke="#b2b2b2"/>
<line x1="529.5" y1="389" x2="529.5" y2="390" stroke="#b2b2b2"/>
<line x1="534.5" y1="374" x2="534.5" y2="375" stroke="#b2b2b2"/>
<line x1="534.5" y1="389" x2="534.5" y2="390" stroke="#b2b2b2"/>
<line x1="539.5" y1="374" x2="539.5" y2="375" stroke="#b2b2b2"/>
<line x1="539.5" y1="389" x2="539.5" y2="390" stroke="#b2b2b2"/>
<line x1="544.5" y1="374" x2="544.5" y2="375" stroke="#b2b2b2"/>
<line x1="544.5" y1="389" x2="544.5" y2="390" stroke="#b2b2b2"/>
<line x1="549.5" y1="374" x2="549.5" y2="375" stroke="#b2b2b2"/>
<line x1="549.5" y1="389" x2="549.5" y2="390" stroke="#b2b2b2"/>
<line x1="554.5" y1="374" x2="554.5" y2="375" stroke="#b2b2b2"/>
<line x1="554.5" y1="389" x2="554.5" y2="390" stroke="#b2b2b2"/>
<line x1="559.5" y1="374" x2="559.5" y2="375" stroke="#b2b2b2"/>
<line x1="559.5" y1="389" x2="559.5" y2="390" stroke="#b2b2b2"/>
<line x1="564.5" y1="374" x2="564.5" y2="375" stroke="#b2b2b2"/>
<line x1="564.5" y1="389" x2="564.5" y2="390" stroke="#b2b2b2"/>
<line x1="569.5" y1="374" x2="569.5" y2="375" stroke="#b2b2b2"/>
<line x1="569.5" y1="389" x2="569.5" y2="390" stroke="#b2b2b2"/>
<line x1="574.5" y1="374" x2="574.5" y2="375" stroke="#b2b2b2"/>
<line x1="574.5" y1="389" x2="574.5" y2="390" stroke="#b2b2b2"/>
<line x1="579.5" y1="374" x2="579.5" y2="375" stroke="#b2b2b2"/>
<line x1="579.5" y1="389" x2="579.5" y2="390" stroke="#b2b2b2"/>
<line x1="584.5" y1="374" x2="584.5" y2="375" stroke="#b2b2b2"/>
<line x1="584.5" y1="389" x2="584.5" y2="390" stroke="#b2b2b2"/>
<line x1="589.5" y1="374" x2="589.5" y2="375" stroke="#b2b2b2"/>
<line x1="589.5" y1="389" x2="589.5" y2="390" stroke="#b2b2b2"/>
<line x1="594.5" y1="374" x2="594.5" y2="375" stroke="#b2b2b2"/>
<line x1="594.5" y1="389" x2="594.5" y2="390" stroke="#b2b2b2"/>
<line x1="599.5" y1="374" x2="599.5" y2="375" stroke="#b2b2b2"/>
<line x1="599.5" y1="389" x2="599.5" y2="390" stroke="#b2b2b2"/>
<line x1="604.5" y1="374" x2="604.5" y2="375" stroke="#b2b2b2"/>
<line x1="604.5" y1="389" x2="604.5" y2="390" stroke="#b2b2b2"/>
<line x1="609.5" y1="374" x2="609.5" y2="375" stroke="#b2b2b2"/>
<line x1="609.5" y1="389" x2="609.5" y2="390" stroke="#b2b2b2"/>
<line x1="614.5" y1="374" x2="614.5" y2="375" stroke="#b2b2b2"/>
<line x1="614.5" y1="389" x2="614.5" y2="390" stroke="#b2b2b2"/>
<line x1="619.5" y1="374" x2="619.5" y2="375" stroke="#b2b2b2"/>
<line x1="619.5" y1="389" x2="619.5" y2="390" stroke="#b2b2b2"/>
<line x1="624.5" y1="374" x2="624.5" y2="375" stroke="#b2b2b2"/>
<line x1="624.5" y1="389" x2="624.5" y2="390" stroke="#b2b2b2"/>
<line x1="629.5" y1="374" x2="629.5" y2="375" stroke="#b2b2b2"/>
<line x1="629.5" y1="389" x2="629.5" y2="390" stroke="#b2b2b2"/>
<line x1="634.5" y1="374" x2="634.5" y2="375" stroke="#b2b2b2"/>
<line x1="634.5" y1="389" x2="634.5" y2="390" stroke="#b2b2b2"/>
<line x1="639.5" y1="374" x2="639.5" y2="375" stroke="#b2b2b2"/>
<line x1="639.5" y1="389" x2="639.5" y2="390" stroke="#b2b2b2"/>
<line x1="647" y1="92.5" x2="649" y2="92.5" stroke="#b2b2b2"/>
<line x1="647" y1="88.0" x2="648" y2="88.0" stroke="#b2b2b2"/>
<line x1="647" y1="83.5" x2="649" y2="83.5" stroke="#b2b2b2"/>
<line x1="647" y1="79.5" x2="648" y2="79.5" stroke="#b2b2b2"/>
<line x1="647" y1="75.5" x2="649" y2="75.5" stroke="#b2b2b2"/>
<line x1="647" y1="71.5" x2="648" y2="71.5" stroke="#b2b2b2"/>
<line x1="647" y1="67.5" x2="649" y2="67.5" stroke="#b2b2b2"/>
<line x1="647" y1="63.0" x2="648" y2="63.0" stroke="#b2b2b2"/>
<line x1="647" y1="58.5" x2="649" y2="58.5" stroke="#b2b2b2"/>
<line x1="647" y1="54.5" x2="648" y2="54.5" stroke="#b2b2b2"/>
<line x1="647" y1="50.5" x2="649" y2="50.5" stroke="#b2b2b2"/>
<line x1="647" y1="46.5" x2="648" y2="46.5" stroke="#b2b2b2"/>
<line x1="647" y1="42.5" x2="649" y2="42.5" stroke="#b2b2b2"/>
<line x1="647" y1="38.0" x2="648" y2="38.0" stroke="#b2b2b2"/>
<line x1="647" y1="33.5" x2="649" y2="33.5" stroke="#b2b2b2"/>
<line x1="647" y1="29.5" x2="648" y2="29.5" stroke="#b2b2b2"/>
<line x1="647" y1="25.5" x2="649" y2="25.5" stroke="#b2b2b2"/>
<line x1="647" y1="21.5" x2="648" y2="21.5" stroke="#b2b2b2"/>
<line x1="647" y1="17.5" x2="649" y2="17.5" stroke="#b2b2b2"/>
<line x1="647" y1="13.5" x2="648" y2="13.5" stroke="#b2b2b2"/>
<line x1="647" y1="9.5" x2="649" y2="9.5" stroke="#b2b2b2"/>
<line x1="647" y1="370.5" x2="648" y2="370.5" stroke="#b2b2b2"/>
<line x1="647" y1="364.5" x2="648" y2="364.5" stroke="#b2b2b2"/>
<line x1="647" y1="359.5" x2="648" y2="359.5" stroke="#b2b2b2"/>
<line x1="647" y1="354.5" x2="648" y2="354.5" stroke="#b2b2b2"/>
<line x1="647" y1="344.5" x2="648" y2="344.5" stroke="#b2b2b2"/>
<line x1="647" y1="339.5" x2="648" y2="339.5" stroke="#b2b2b2"/>
<line x1="647" y1="334.5" x2="648" y2="334.5" stroke="#b2b2b2"/>
<line x1="647" y1="329.5" x2="648" y2="329.5" stroke="#b2b2b2"/>
<line x1="647" y1="319.5" x2="648" y2="319.5" stroke="#b2b2b2"/>
<line x1="647" y1="315.5" x2="648" y2="315.5" stroke="#b2b2b2"/>
<line x1="647" y1="310.5" x2="648" y2="310.5" stroke="#b2b2b2"/>
<line x1="647" y1="306.5" x2="648" y2="306.5" stroke="#b2b2b2"/>
<line x1="647" y1="297.5" x2="648" y2="297.5" stroke="#b2b2b2"/>
<line x1="647" y1="292.5" x2="648" y2="292.5" stroke="#b2b2b2"/>
<line x1="647" y1="288.5" x2="648" y2="288.5" stroke="#b2b2b2"/>
<line x1="647" y1="284.5" x2="648" y2="284.5" stroke="#b2b2b2"/>
<line x1="647" y1="275.5" x2="648" y2="275.5" stroke="#b2b2b2"/>
<line x1="647" y1="271.5" x2="648" y2="271.5" stroke="#b2b2b2"/>
<line x1="647" y1="267.5" x2="648" y2="267.5" stroke="#b2b2b2"/>
<line x1="647" y1="263.5" x2="648" y2="263.5" stroke="#b2b2b2"/>
<line x1="647" y1="255.5" x2="648" y2="255.5" stroke="#b2b2b2"/>
<line x1="647" y1="251.5" x2="648" y2="251.5" stroke="#b2b2b2"/>
<line x1="647" y1="248.5" x2="648" y2="248.5" stroke="#b2b2b2"/>
<line x1="647" y1="244.5" x2="648" y2="244.5" stroke="#b2b2b2"/>
<line x1="647" y1="236.5" x2="648" y2="236.5" stroke="#b2b2b2"/>
<line x1="647" y1="233.5" x2="648" y2="233.5" stroke="#b2b2b2"/>
<line x1="647" y1="229.5" x2="648" y2="229.5" stroke="#b2b2b2"/>
<line x1="647" y1="225.5" x2="648" y2="225.5" stroke="#b2b2b2"/>
<line x1="647" y1="218.5" x2="648" y2="218.5" stroke="#b2b2b2"/>
<line x1="647" y1="215.5" x2="648" y2="215.5" stroke="#b2b2b2"/>
<line x1="647" y1="211.5" x2="648" y2="211.5" stroke="#b2b2b2"/>
<line x1="647" y1="208.5" x2="648" y2="208.5" stroke="#b2b2b2"/>
<line x1="647" y1="201.5" x2="648" y2="201.5" stroke="#b2b2b2"/>
<line x1="647" y1="198.5" x2="648" y2="198.5" stroke="#b2b2b2"/>
<line x1="647" y1="194.5" x2="648" y2="194.5" stroke="#b2b2b2"/>
<line x1="647" y1="191.5" x2="648" y2="191.5" stroke="#b2b2b2"/>
<line x1="647" y1="185.5" x2="648" y2="185.5" stroke="#b2b2b2"/>
<line x1="647" y1="181.5" x2="648" y2="181.5" stroke="#b2b2b2"/>
<line x1="647" y1="178.5" x2="648" y2="178.5" stroke="#b2b2b2"/>
<line x1="647" y1="175.5" x2="648" y2="175.5" stroke="#b2b2b2"/>
<line x1="647" y1="169.5" x2="648" y2="169.5" stroke="#b2b2b2"/>
<line x1="647" y1="166.5" x2="648" y2="166.5" stroke="#b2b2b2"/>
<line x1="647" y1="163.5" x2="648" y2="163.5" stroke="#b2b2b2"/>
<line x1="647" y1="160.5" x2="648" y2="160.5" stroke="#b2b2b2"/>
<line x1="647" y1="154.5" x2="648" y2="154.5" stroke="#b2b2b2"/>
<line x1="647" y1="151.5" x2="648" y2="151.5" stroke="#b2b2b2"/>
<line x1="647" y1="148.5" x2="648" y2="148.5" stroke="#b2b2b2"/>
<line x1="647" y1="145.5" x2="648" y2="145.5" stroke="#b2b2b2"/>
<line x1="647" y1="139.5" x2="648" y2="139.5" stroke="#b2b2b2"/>
<line x1="647" y1="137.5" x2="648" y2="137.5" stroke="#b2b2b2"/>
<line x1="647" y1="134.5" x2="648" y2="134.5" stroke="#b2b2b2"/>
<line x1="647" y1="131.5" x2="648" y2="131.5" stroke="#b2b2b2"/>
<line x1="647" y1="126.5" x2="648" y2="126.5" stroke="#b2b2b2"/>
<line x1="647" y1="123.5" x2="648" y2="123.5" stroke="#b2b2b2"/>
<line x1="647" y1="120.5" x2="648" y2="120.5" stroke="#b2b2b2"/>
<line x1="647" y1="118.5" x2="648" y2="118.5" stroke="#b2b2b2"/>
<line x1="647" y1="112.5" x2="648" y2="112.5" stroke="#b2b2b2"/>
<line x1="647" y1="110.5" x2="648" y2="110.5" stroke="#b2b2b2"/>
<line x1="647" y1="107.5" x2="648" y2="107.5" stroke="#b2b2b2"/>
<line x1="647" y1="105.5" x2="648" y2="105.5" stroke="#b2b2b2"/>
<line x1="647" y1="115.5" x2="649" y2="115.5" stroke="#b2b2b2"/>
<line x1="647" y1="128.5" x2="649" y2="128.5" stroke="#b2b2b2"/>
<line x1="647" y1="142.5" x2="649" y2="142.5" stroke="#b2b2b2"/>
<line x1="647" y1="157.5" x2="649" y2="157.5" stroke="#b2b2b2"/>
<line x1="647" y1="172.5" x2="649" y2="172.5" stroke="#b2b2b2"/>
<line x1="647" y1="188.5" x2="649" y2="188.5" stroke="#b2b2b2"/>
<line x1="647" y1="205.5" x2="649" y2="205.5" stroke="#b2b2b2"/>
<line x1="647" y1="222.5" x2="649" y2="222.5" stroke="#b2b2b2"/>
<line x1="647" y1="240.5" x2="649" y2="240.5" stroke="#b2b2b2"/>
<line x1="647" y1="260.5" x2="649" y2="260.5" stroke="#b2b2b2"/>
<line x1="647" y1="280.5" x2="649" y2="280.5" stroke="#b2b2b2"/>
<line x1="647" y1="302.5" x2="649" y2="302.5" stroke="#b2b2b2"/>
<line x1="647" y1="325.5" x2="649" y2="325.5" stroke="#b2b2b2"/>
<line x1="647" y1="349.5" x2="649" y2="349.5" stroke="#b2b2b2"/>
<line x1="647" y1="402.5" x2="649" y2="402.5" stroke="#b2b2b2"/>
<line x1="647" y1="416.5" x2="649" y2="416.5" stroke="#b2b2b2"/>
<line x1="647" y1="431.5" x2="649" y2="431.5" stroke="#b2b2b2"/>
<line x1="647" y1="446.5" x2="649" y2="446.5" stroke="#b2b2b2"/>
<line x1="647" y1="461.5" x2="649" y2="461.5" stroke="#b2b2b2"/>
<line x1="647" y1="475.5" x2="649" y2="475.5" stroke="#b2b2b2"/>
<rect x="16" y="279" width="633" height="3" fill="#000"/>
<text x="649.5" y="20.9" font-size="9.7" fill="#000" font-weight="normal" text-anchor="start" textLength="11.74" lengthAdjust="spacingAndGlyphs" stroke="#000" stroke-width="0.12" >90</text>
<text x="649.5" y="36.9" font-size="9.7" fill="#000" font-weight="normal" text-anchor="start" textLength="11.74" lengthAdjust="spacingAndGlyphs" stroke="#000" stroke-width="0.12" >70</text>
<text x="649.5" y="53.9" font-size="9.7" fill="#000" font-weight="normal" text-anchor="start" textLength="11.74" lengthAdjust="spacingAndGlyphs" stroke="#000" stroke-width="0.12" >50</text>
<text x="649.5" y="70.9" font-size="9.7" fill="#000" font-weight="normal" text-anchor="start" textLength="11.74" lengthAdjust="spacingAndGlyphs" stroke="#000" stroke-width="0.12" >30</text>
<text x="649.5" y="86.9" font-size="9.7" fill="#000" font-weight="normal" text-anchor="start" textLength="11.74" lengthAdjust="spacingAndGlyphs" stroke="#000" stroke-width="0.12" >10</text>
<text x="649.5" y="118.9" font-size="9.7" fill="#000" font-weight="normal" text-anchor="start" textLength="11.74" lengthAdjust="spacingAndGlyphs" stroke="#000" stroke-width="0.12" >27</text>
<text x="649.5" y="131.9" font-size="9.7" fill="#000" font-weight="normal" text-anchor="start" textLength="11.74" lengthAdjust="spacingAndGlyphs" stroke="#000" stroke-width="0.12" >26</text>
<text x="649.5" y="145.9" font-size="9.7" fill="#000" font-weight="normal" text-anchor="start" textLength="11.74" lengthAdjust="spacingAndGlyphs" stroke="#000" stroke-width="0.12" >25</text>
<text x="649.5" y="160.9" font-size="9.7" fill="#000" font-weight="normal" text-anchor="start" textLength="11.74" lengthAdjust="spacingAndGlyphs" stroke="#000" stroke-width="0.12" >24</text>
<text x="649.5" y="175.9" font-size="9.7" fill="#000" font-weight="normal" text-anchor="start" textLength="11.74" lengthAdjust="spacingAndGlyphs" stroke="#000" stroke-width="0.12" >23</text>
<text x="649.5" y="191.9" font-size="9.7" fill="#000" font-weight="normal" text-anchor="start" textLength="11.74" lengthAdjust="spacingAndGlyphs" stroke="#000" stroke-width="0.12" >22</text>
<text x="649.5" y="208.9" font-size="9.7" fill="#000" font-weight="normal" text-anchor="start" textLength="11.74" lengthAdjust="spacingAndGlyphs" stroke="#000" stroke-width="0.12" >21</text>
<text x="649.5" y="225.9" font-size="9.7" fill="#000" font-weight="normal" text-anchor="start" textLength="11.74" lengthAdjust="spacingAndGlyphs" stroke="#000" stroke-width="0.12" >20</text>
<text x="649.5" y="243.9" font-size="9.7" fill="#000" font-weight="normal" text-anchor="start" textLength="11.74" lengthAdjust="spacingAndGlyphs" stroke="#000" stroke-width="0.12" >19</text>
<text x="649.5" y="263.9" font-size="9.7" fill="#000" font-weight="normal" text-anchor="start" textLength="11.74" lengthAdjust="spacingAndGlyphs" stroke="#000" stroke-width="0.12" >18</text>
<text x="649.5" y="283.9" font-size="9.7" fill="#000" font-weight="normal" text-anchor="start" textLength="11.74" lengthAdjust="spacingAndGlyphs" stroke="#000" stroke-width="0.12" >17</text>
<text x="649.5" y="305.9" font-size="9.7" fill="#000" font-weight="normal" text-anchor="start" textLength="11.74" lengthAdjust="spacingAndGlyphs" stroke="#000" stroke-width="0.12" >16</text>
<text x="649.5" y="328.9" font-size="9.7" fill="#000" font-weight="normal" text-anchor="start" textLength="11.74" lengthAdjust="spacingAndGlyphs" stroke="#000" stroke-width="0.12" >15</text>
<text x="649.5" y="352.9" font-size="9.7" fill="#000" font-weight="normal" text-anchor="start" textLength="11.74" lengthAdjust="spacingAndGlyphs" stroke="#000" stroke-width="0.12" >14</text>
<text x="652.6" y="405.9" font-size="9.7" fill="#000" font-weight="normal" text-anchor="start" textLength="14.69" lengthAdjust="spacingAndGlyphs" stroke="#000" stroke-width="0.12" >1.5</text>
<text x="652.6" y="419.9" font-size="9.7" fill="#000" font-weight="normal" text-anchor="start" textLength="14.69" lengthAdjust="spacingAndGlyphs" stroke="#000" stroke-width="0.12" >1.0</text>
<text x="652.6" y="434.9" font-size="9.7" fill="#000" font-weight="normal" text-anchor="start" textLength="14.69" lengthAdjust="spacingAndGlyphs" stroke="#000" stroke-width="0.12" >0.5</text>
<text x="649.5" y="464.9" font-size="9.7" fill="#000" font-weight="normal" text-anchor="start" textLength="18.19" lengthAdjust="spacingAndGlyphs" stroke="#000" stroke-width="0.12" >-0.5</text>
<text x="649.5" y="478.9" font-size="9.7" fill="#000" font-weight="normal" text-anchor="start" textLength="18.19" lengthAdjust="spacingAndGlyphs" stroke="#000" stroke-width="0.12" >-1.0</text>
<text x="14.2" y="386.9" font-size="9.7" fill="#000" font-weight="normal" text-anchor="middle" textLength="11.74" lengthAdjust="spacingAndGlyphs" stroke="#000" stroke-width="0.14" >12</text>
<text x="39.2" y="386.9" font-size="9.7" fill="#000" font-weight="normal" text-anchor="middle" textLength="11.74" lengthAdjust="spacingAndGlyphs" stroke="#000" stroke-width="0.14" >19</text>
<text x="64.2" y="386.9" font-size="9.7" fill="#000" font-weight="normal" text-anchor="middle" textLength="11.74" lengthAdjust="spacingAndGlyphs" stroke="#000" stroke-width="0.14" >26</text>
<text x="89.8" y="386.9" font-size="11.3" fill="#000" font-weight="bold" text-anchor="middle" stroke="#000" stroke-width="0.3">Apr</text>
<text x="109.2" y="386.9" font-size="9.7" fill="#000" font-weight="normal" text-anchor="middle" textLength="5.87" lengthAdjust="spacingAndGlyphs" stroke="#000" stroke-width="0.14" >9</text>
<text x="134.2" y="386.9" font-size="9.7" fill="#000" font-weight="normal" text-anchor="middle" textLength="11.74" lengthAdjust="spacingAndGlyphs" stroke="#000" stroke-width="0.14" >16</text>
<text x="159.2" y="386.9" font-size="9.7" fill="#000" font-weight="normal" text-anchor="middle" textLength="11.74" lengthAdjust="spacingAndGlyphs" stroke="#000" stroke-width="0.14" >23</text>
<text x="189.8" y="386.9" font-size="11.3" fill="#000" font-weight="bold" text-anchor="middle" stroke="#000" stroke-width="0.3">May</text>
<text x="209.2" y="386.9" font-size="9.7" fill="#000" font-weight="normal" text-anchor="middle" textLength="5.87" lengthAdjust="spacingAndGlyphs" stroke="#000" stroke-width="0.14" >7</text>
<text x="234.2" y="386.9" font-size="9.7" fill="#000" font-weight="normal" text-anchor="middle" textLength="11.74" lengthAdjust="spacingAndGlyphs" stroke="#000" stroke-width="0.14" >14</text>
<text x="259.2" y="386.9" font-size="9.7" fill="#000" font-weight="normal" text-anchor="middle" textLength="11.74" lengthAdjust="spacingAndGlyphs" stroke="#000" stroke-width="0.14" >21</text>
<text x="283.59999999999997" y="386.9" font-size="9.7" fill="#000" font-weight="normal" text-anchor="middle" textLength="11.74" lengthAdjust="spacingAndGlyphs" stroke="#000" stroke-width="0.14" >29</text>
<text x="301.0" y="386.9" font-size="11.3" fill="#000" font-weight="bold" text-anchor="middle" stroke="#000" stroke-width="0.3">Jun</text>
<text x="329.2" y="386.9" font-size="9.7" fill="#000" font-weight="normal" text-anchor="middle" textLength="11.74" lengthAdjust="spacingAndGlyphs" stroke="#000" stroke-width="0.14" >11</text>
<text x="354.2" y="386.9" font-size="9.7" fill="#000" font-weight="normal" text-anchor="middle" textLength="11.74" lengthAdjust="spacingAndGlyphs" stroke="#000" stroke-width="0.14" >18</text>
<text x="379.2" y="386.9" font-size="9.7" fill="#000" font-weight="normal" text-anchor="middle" textLength="11.74" lengthAdjust="spacingAndGlyphs" stroke="#000" stroke-width="0.14" >25</text>
<text x="404.8" y="386.9" font-size="11.3" fill="#000" font-weight="bold" text-anchor="middle" stroke="#000" stroke-width="0.3">Jul</text>
<text x="424.2" y="386.9" font-size="9.7" fill="#000" font-weight="normal" text-anchor="middle" textLength="5.87" lengthAdjust="spacingAndGlyphs" stroke="#000" stroke-width="0.14" >9</text>
<text x="449.2" y="386.9" font-size="9.7" fill="#000" font-weight="normal" text-anchor="middle" textLength="11.74" lengthAdjust="spacingAndGlyphs" stroke="#000" stroke-width="0.14" >16</text>
<text x="474.2" y="386.9" font-size="9.7" fill="#000" font-weight="normal" text-anchor="middle" textLength="11.74" lengthAdjust="spacingAndGlyphs" stroke="#000" stroke-width="0.14" >23</text>
<text x="509.8" y="386.9" font-size="11.3" fill="#000" font-weight="bold" text-anchor="middle" stroke="#000" stroke-width="0.3">Aug</text>
<text x="524.2" y="386.9" font-size="9.7" fill="#000" font-weight="normal" text-anchor="middle" textLength="5.87" lengthAdjust="spacingAndGlyphs" stroke="#000" stroke-width="0.14" >6</text>
<text x="549.2" y="386.9" font-size="9.7" fill="#000" font-weight="normal" text-anchor="middle" textLength="11.74" lengthAdjust="spacingAndGlyphs" stroke="#000" stroke-width="0.14" >13</text>
<text x="574.2" y="386.9" font-size="9.7" fill="#000" font-weight="normal" text-anchor="middle" textLength="11.74" lengthAdjust="spacingAndGlyphs" stroke="#000" stroke-width="0.14" >20</text>
<text x="599.2" y="386.9" font-size="9.7" fill="#000" font-weight="normal" text-anchor="middle" textLength="11.74" lengthAdjust="spacingAndGlyphs" stroke="#000" stroke-width="0.14" >27</text>
<text x="624.8" y="386.9" font-size="11.3" fill="#000" font-weight="bold" text-anchor="middle" stroke="#000" stroke-width="0.3">Sep</text>
<path d="M644.3,58.5 L648,53.5 H677.5 V63.5 H648 Z" fill="#fff" stroke="#000" stroke-width="1.1" stroke-linejoin="miter"/>
<text x="649.6" y="61.9" font-size="9.7" fill="#000" font-weight="normal" text-anchor="start" textLength="26.2" lengthAdjust="spacingAndGlyphs" stroke="#000" stroke-width="0.2" >40.85</text>
<path d="M644.3,231.5 L648,226.5 H677.5 V236.5 H648 Z" fill="#fff" stroke="#ff0000" stroke-width="1.1" stroke-linejoin="miter"/>
<text x="649.6" y="234.9" font-size="9.7" fill="#000" font-weight="normal" text-anchor="start" textLength="26.2" lengthAdjust="spacingAndGlyphs" stroke="#000" stroke-width="0.2" >19.52</text>
<path d="M644.3,288.5 L648,283.5 H677.5 V293.5 H648 Z" fill="#fff" stroke="#10109a" stroke-width="1.1" stroke-linejoin="miter"/>
<text x="649.6" y="291.9" font-size="9.7" fill="#000" font-weight="normal" text-anchor="start" textLength="26.2" lengthAdjust="spacingAndGlyphs" stroke="#000" stroke-width="0.2" >16.64</text>
<path d="M644.3,340.0 L648,334.5 H677.5 V345.5 H648 Z" fill="#fff" stroke="#000" stroke-width="1.1" stroke-linejoin="miter"/>
<text x="649.0" y="343.8" font-size="10.4" fill="#000" font-weight="bold" text-anchor="start" textLength="26.4" lengthAdjust="spacingAndGlyphs" stroke="#000" stroke-width="0.35">14.38</text>
<path d="M644.3,444.5 L648,439.5 H677.5 V449.5 H648 Z" fill="#fff" stroke="#3c78b4" stroke-width="1.1" stroke-linejoin="miter"/>
<text x="649.6" y="447.9" font-size="9.7" fill="#000" font-weight="normal" text-anchor="start" textLength="26.2" lengthAdjust="spacingAndGlyphs" stroke="#000" stroke-width="0.2" >0.071</text>
<path d="M644.3,450.5 L648,445.5 H680.5 V455.5 H648 Z" fill="#fff" stroke="#ff0000" stroke-width="1.1" stroke-linejoin="miter"/>
<text x="649.6" y="453.9" font-size="9.7" fill="#000" font-weight="normal" text-anchor="start" textLength="29.4" lengthAdjust="spacingAndGlyphs" stroke="#000" stroke-width="0.2" >-0.128</text>
<path d="M644.3,447.5 L648,442.5 H680.5 V452.5 H648 Z" fill="#fff" stroke="#000" stroke-width="1.1" stroke-linejoin="miter"/>
<text x="649.6" y="450.9" font-size="9.7" fill="#000" font-weight="normal" text-anchor="start" textLength="29.4" lengthAdjust="spacingAndGlyphs" stroke="#000" stroke-width="0.2" >-0.057</text>
<path d="M3.6,12.6 V10.6 L7.4,4.6 L9.5,10 L11.4,6.4 V12.6 Z" fill="#8c8c8c"/>
<path d="M3.6,12.6 V10.6 L7.4,4.6 L9.5,10 L11.4,6.4 V12.6" fill="none" stroke="#000" stroke-width="1.1" stroke-linejoin="round"/>
<g transform="translate(15.7,12.7) scale(1.13,1)"><text x="0" y="0" font-size="10" fill="#000" stroke="#000" stroke-width="0.15" textLength="69.03" lengthAdjust="spacing">RSI(14) 40.85</text></g>
<g stroke="#000" stroke-width="0.9"><line x1="4.5" y1="101.9" x2="4.5" y2="108.7"/><rect x="3.5" y="103.2" width="2" height="3.9" fill="#fff"/><line x1="7.6" y1="105" x2="7.6" y2="109.8"/><rect x="6.2" y="105.2" width="2.9" height="3.3" fill="#000"/><line x1="10.5" y1="101.9" x2="10.5" y2="109.7"/><rect x="9.6" y="103.2" width="1.9" height="5" fill="#fff"/></g>
<g transform="translate(15.7,109.7) scale(1.13,1)"><text x="0" y="0" font-size="10" fill="#000" stroke="#000" stroke-width="0.15" textLength="89.65" lengthAdjust="spacing">$VIX (Daily) 14.38</text></g>
<rect x="2.9" y="115.7" width="8.8" height="2" fill="#10109a"/>
<text x="13.6" y="121" font-size="9.6" fill="#000088" font-weight="normal" text-anchor="start" textLength="59.3" lengthAdjust="spacingAndGlyphs" stroke="#000088" stroke-width="0.14" >MA(50) 16.64</text>
<rect x="2.9" y="126.7" width="8.8" height="2" fill="#ff0000"/>
<text x="13.6" y="131.7" font-size="9.6" fill="#f00" font-weight="normal" text-anchor="start" textLength="63.7" lengthAdjust="spacingAndGlyphs" stroke="#f00" stroke-width="0.14" >MA(200) 19.52</text>
<g fill="#8a8a8a" stroke="#444" stroke-width="0.7"><rect x="3.0" y="136.9" width="1.9" height="4.8"/><rect x="5.2" y="135.2" width="1.9" height="6.5"/><rect x="7.4" y="135.9" width="1.9" height="5.8"/><rect x="9.6" y="136.9" width="1.9" height="4.8"/></g>
<text x="13.8" y="141.6" font-size="9.6" fill="#555" font-weight="normal" text-anchor="start" textLength="62.2" lengthAdjust="spacingAndGlyphs" stroke="#555" stroke-width="0.14" >Volume undef</text>
<rect x="3.2" y="395.5" width="8.5" height="2.4" fill="#000"/>
<g transform="translate(15.7,401) scale(1.13,1)"><text x="0" y="0" font-size="10" fill="#000" stroke="#000" stroke-width="0.15" textLength="111.5" lengthAdjust="spacing">MACD(12,26,9) -0.057</text></g>
<g transform="translate(142.3,401) scale(1.13,1)"><text x="0" y="0" font-size="10" fill="#f00" stroke="#f00" stroke-width="0.15" textLength="38.23" lengthAdjust="spacing">, -0.128</text></g>
<g transform="translate(186.6,401) scale(1.13,1)"><text x="0" y="0" font-size="10" fill="#3399cc" stroke="#3399cc" stroke-width="0.15" textLength="33.1" lengthAdjust="spacing">, 0.071</text></g>
</svg></body></html>
